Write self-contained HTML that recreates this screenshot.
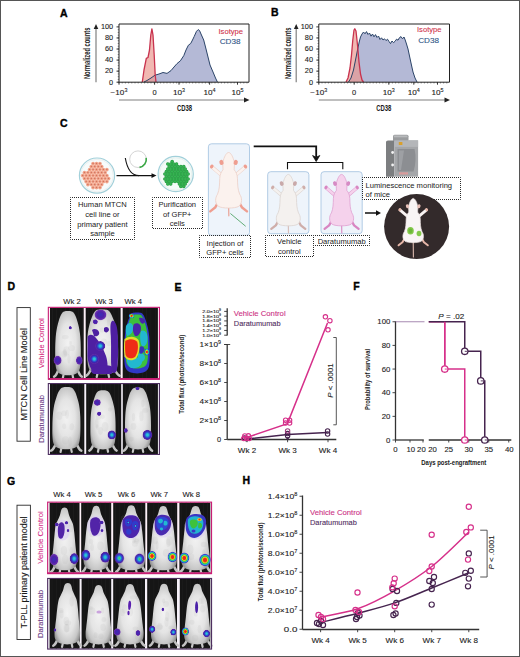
<!DOCTYPE html>
<html><head><meta charset="utf-8"><style>
html,body{margin:0;padding:0;background:#fff;}
svg{display:block;font-family:"Liberation Sans", sans-serif;}
</style></head><body>
<svg width="520" height="657" viewBox="0 0 520 657">
<rect x="0" y="0" width="520" height="657" fill="#fff"/>
<polygon points="144,82 147,80.5 151,78 155,75.2 159,74 163,72.5 167,73.4 171,70.6 174,67 177,63.6 180.4,60.8 183.8,55.6 186,50 188.4,45.2 190.7,43.5 192.5,40 194.2,36.5 196.5,31.3 198.2,29.6 199.5,30.5 201,34 203.7,40 205.5,47 207.5,55 210,65 213,72 215.5,78 217.4,82" fill="#b4b9d6" stroke="none"/>
<polygon points="142.3,82 144,70 146.3,58.4 148,57.5 149.5,50 150.8,35 151.9,28.8 153,35 154.2,55 155.2,75 156,82" fill="#eb9a92" fill-opacity="0.7" stroke="none"/>
<polyline points="144,82 147,80.5 151,78 155,75.2 159,74 163,72.5 167,73.4 171,70.6 174,67 177,63.6 180.4,60.8 183.8,55.6 186,50 188.4,45.2 190.7,43.5 192.5,40 194.2,36.5 196.5,31.3 198.2,29.6 199.5,30.5 201,34 203.7,40 205.5,47 207.5,55 210,65 213,72 215.5,78 217.4,82" fill="none" stroke="#2b4468" stroke-width="1" stroke-linejoin="round"/>
<polyline points="142.3,82 144,70 146.3,58.4 148,57.5 149.5,50 150.8,35 151.9,28.8 153,35 154.2,55 155.2,75 156,82" fill="none" stroke="#c8324e" stroke-width="1.3" stroke-linejoin="round"/>
<path d="M119,24 H249 V82.2 H119 Z" fill="none" stroke="#222" stroke-width="1"/>
<line x1="116.5" y1="82.2" x2="119" y2="82.2" stroke="#222" stroke-width="0.9" />
<text x="113.2" y="84.5" font-size="6.7" fill="#222" text-anchor="end" textLength="4.098410937500001" lengthAdjust="spacingAndGlyphs"  stroke="#222" stroke-width="0.1">0</text>
<line x1="116.5" y1="71.14" x2="119" y2="71.14" stroke="#222" stroke-width="0.9" />
<text x="113.2" y="73.44" font-size="6.7" fill="#222" text-anchor="end" textLength="8.196821875000001" lengthAdjust="spacingAndGlyphs"  stroke="#222" stroke-width="0.1">20</text>
<line x1="116.5" y1="60.08" x2="119" y2="60.08" stroke="#222" stroke-width="0.9" />
<text x="113.2" y="62.379999999999995" font-size="6.7" fill="#222" text-anchor="end" textLength="8.196821875000001" lengthAdjust="spacingAndGlyphs"  stroke="#222" stroke-width="0.1">40</text>
<line x1="116.5" y1="49.019999999999996" x2="119" y2="49.019999999999996" stroke="#222" stroke-width="0.9" />
<text x="113.2" y="51.31999999999999" font-size="6.7" fill="#222" text-anchor="end" textLength="8.196821875000001" lengthAdjust="spacingAndGlyphs"  stroke="#222" stroke-width="0.1">60</text>
<line x1="116.5" y1="37.96" x2="119" y2="37.96" stroke="#222" stroke-width="0.9" />
<text x="113.2" y="40.26" font-size="6.7" fill="#222" text-anchor="end" textLength="8.196821875000001" lengthAdjust="spacingAndGlyphs"  stroke="#222" stroke-width="0.1">80</text>
<line x1="116.5" y1="26.900000000000006" x2="119" y2="26.900000000000006" stroke="#222" stroke-width="0.9" />
<text x="113.2" y="29.200000000000006" font-size="6.7" fill="#222" text-anchor="end" textLength="12.295232812500002" lengthAdjust="spacingAndGlyphs"  stroke="#222" stroke-width="0.1">100</text>
<line x1="117.7" y1="82.2" x2="119" y2="82.2" stroke="#222" stroke-width="0.5" />
<line x1="117.7" y1="79.435" x2="119" y2="79.435" stroke="#222" stroke-width="0.5" />
<line x1="117.7" y1="76.67" x2="119" y2="76.67" stroke="#222" stroke-width="0.5" />
<line x1="117.7" y1="73.905" x2="119" y2="73.905" stroke="#222" stroke-width="0.5" />
<line x1="117.7" y1="71.14" x2="119" y2="71.14" stroke="#222" stroke-width="0.5" />
<line x1="117.7" y1="68.375" x2="119" y2="68.375" stroke="#222" stroke-width="0.5" />
<line x1="117.7" y1="65.61" x2="119" y2="65.61" stroke="#222" stroke-width="0.5" />
<line x1="117.7" y1="62.845" x2="119" y2="62.845" stroke="#222" stroke-width="0.5" />
<line x1="117.7" y1="60.08" x2="119" y2="60.08" stroke="#222" stroke-width="0.5" />
<line x1="117.7" y1="57.315" x2="119" y2="57.315" stroke="#222" stroke-width="0.5" />
<line x1="117.7" y1="54.550000000000004" x2="119" y2="54.550000000000004" stroke="#222" stroke-width="0.5" />
<line x1="117.7" y1="51.785" x2="119" y2="51.785" stroke="#222" stroke-width="0.5" />
<line x1="117.7" y1="49.019999999999996" x2="119" y2="49.019999999999996" stroke="#222" stroke-width="0.5" />
<line x1="117.7" y1="46.254999999999995" x2="119" y2="46.254999999999995" stroke="#222" stroke-width="0.5" />
<line x1="117.7" y1="43.489999999999995" x2="119" y2="43.489999999999995" stroke="#222" stroke-width="0.5" />
<line x1="117.7" y1="40.725" x2="119" y2="40.725" stroke="#222" stroke-width="0.5" />
<line x1="117.7" y1="37.96" x2="119" y2="37.96" stroke="#222" stroke-width="0.5" />
<line x1="117.7" y1="35.195" x2="119" y2="35.195" stroke="#222" stroke-width="0.5" />
<line x1="117.7" y1="32.43" x2="119" y2="32.43" stroke="#222" stroke-width="0.5" />
<line x1="117.7" y1="29.665000000000006" x2="119" y2="29.665000000000006" stroke="#222" stroke-width="0.5" />
<line x1="119" y1="82.2" x2="119" y2="83.5" stroke="#222" stroke-width="0.5" />
<line x1="122.2" y1="82.2" x2="122.2" y2="83.5" stroke="#222" stroke-width="0.5" />
<line x1="125.4" y1="82.2" x2="125.4" y2="83.5" stroke="#222" stroke-width="0.5" />
<line x1="128.6" y1="82.2" x2="128.6" y2="83.5" stroke="#222" stroke-width="0.5" />
<line x1="131.79999999999998" y1="82.2" x2="131.79999999999998" y2="83.5" stroke="#222" stroke-width="0.5" />
<line x1="134.99999999999997" y1="82.2" x2="134.99999999999997" y2="83.5" stroke="#222" stroke-width="0.5" />
<line x1="138.19999999999996" y1="82.2" x2="138.19999999999996" y2="83.5" stroke="#222" stroke-width="0.5" />
<line x1="141.39999999999995" y1="82.2" x2="141.39999999999995" y2="83.5" stroke="#222" stroke-width="0.5" />
<line x1="144.59999999999994" y1="82.2" x2="144.59999999999994" y2="83.5" stroke="#222" stroke-width="0.5" />
<line x1="147.79999999999993" y1="82.2" x2="147.79999999999993" y2="83.5" stroke="#222" stroke-width="0.5" />
<line x1="150.99999999999991" y1="82.2" x2="150.99999999999991" y2="83.5" stroke="#222" stroke-width="0.5" />
<line x1="154.1999999999999" y1="82.2" x2="154.1999999999999" y2="83.5" stroke="#222" stroke-width="0.5" />
<line x1="157.3999999999999" y1="82.2" x2="157.3999999999999" y2="83.5" stroke="#222" stroke-width="0.5" />
<line x1="160.59999999999988" y1="82.2" x2="160.59999999999988" y2="83.5" stroke="#222" stroke-width="0.5" />
<line x1="163.79999999999987" y1="82.2" x2="163.79999999999987" y2="83.5" stroke="#222" stroke-width="0.5" />
<line x1="166.99999999999986" y1="82.2" x2="166.99999999999986" y2="83.5" stroke="#222" stroke-width="0.5" />
<line x1="170.19999999999985" y1="82.2" x2="170.19999999999985" y2="83.5" stroke="#222" stroke-width="0.5" />
<line x1="173.39999999999984" y1="82.2" x2="173.39999999999984" y2="83.5" stroke="#222" stroke-width="0.5" />
<line x1="176.59999999999982" y1="82.2" x2="176.59999999999982" y2="83.5" stroke="#222" stroke-width="0.5" />
<line x1="179.7999999999998" y1="82.2" x2="179.7999999999998" y2="83.5" stroke="#222" stroke-width="0.5" />
<line x1="182.9999999999998" y1="82.2" x2="182.9999999999998" y2="83.5" stroke="#222" stroke-width="0.5" />
<line x1="186.1999999999998" y1="82.2" x2="186.1999999999998" y2="83.5" stroke="#222" stroke-width="0.5" />
<line x1="189.39999999999978" y1="82.2" x2="189.39999999999978" y2="83.5" stroke="#222" stroke-width="0.5" />
<line x1="192.59999999999977" y1="82.2" x2="192.59999999999977" y2="83.5" stroke="#222" stroke-width="0.5" />
<line x1="195.79999999999976" y1="82.2" x2="195.79999999999976" y2="83.5" stroke="#222" stroke-width="0.5" />
<line x1="198.99999999999974" y1="82.2" x2="198.99999999999974" y2="83.5" stroke="#222" stroke-width="0.5" />
<line x1="202.19999999999973" y1="82.2" x2="202.19999999999973" y2="83.5" stroke="#222" stroke-width="0.5" />
<line x1="205.39999999999972" y1="82.2" x2="205.39999999999972" y2="83.5" stroke="#222" stroke-width="0.5" />
<line x1="208.5999999999997" y1="82.2" x2="208.5999999999997" y2="83.5" stroke="#222" stroke-width="0.5" />
<line x1="211.7999999999997" y1="82.2" x2="211.7999999999997" y2="83.5" stroke="#222" stroke-width="0.5" />
<line x1="214.9999999999997" y1="82.2" x2="214.9999999999997" y2="83.5" stroke="#222" stroke-width="0.5" />
<line x1="218.19999999999968" y1="82.2" x2="218.19999999999968" y2="83.5" stroke="#222" stroke-width="0.5" />
<line x1="221.39999999999966" y1="82.2" x2="221.39999999999966" y2="83.5" stroke="#222" stroke-width="0.5" />
<line x1="224.59999999999965" y1="82.2" x2="224.59999999999965" y2="83.5" stroke="#222" stroke-width="0.5" />
<line x1="227.79999999999964" y1="82.2" x2="227.79999999999964" y2="83.5" stroke="#222" stroke-width="0.5" />
<line x1="230.99999999999963" y1="82.2" x2="230.99999999999963" y2="83.5" stroke="#222" stroke-width="0.5" />
<line x1="234.19999999999962" y1="82.2" x2="234.19999999999962" y2="83.5" stroke="#222" stroke-width="0.5" />
<line x1="237.3999999999996" y1="82.2" x2="237.3999999999996" y2="83.5" stroke="#222" stroke-width="0.5" />
<line x1="240.5999999999996" y1="82.2" x2="240.5999999999996" y2="83.5" stroke="#222" stroke-width="0.5" />
<line x1="243.79999999999959" y1="82.2" x2="243.79999999999959" y2="83.5" stroke="#222" stroke-width="0.5" />
<line x1="246.99999999999957" y1="82.2" x2="246.99999999999957" y2="83.5" stroke="#222" stroke-width="0.5" />
<line x1="119" y1="82.2" x2="119" y2="84.7" stroke="#222" stroke-width="0.9" />
<line x1="154.6" y1="82.2" x2="154.6" y2="84.7" stroke="#222" stroke-width="0.9" />
<line x1="179" y1="82.2" x2="179" y2="84.7" stroke="#222" stroke-width="0.9" />
<line x1="209.6" y1="82.2" x2="209.6" y2="84.7" stroke="#222" stroke-width="0.9" />
<line x1="237.5" y1="82.2" x2="237.5" y2="84.7" stroke="#222" stroke-width="0.9" />
<text x="119" y="94.6" font-size="6.8" fill="#222" text-anchor="middle" textLength="16.84" lengthAdjust="spacingAndGlyphs" stroke="#222" stroke-width="0.1">&#8722;10<tspan font-size="4.5" dy="-2.8">3</tspan></text>
<text x="154.6" y="94.6" font-size="6.8" fill="#222" text-anchor="middle" textLength="4.1595812500000005" lengthAdjust="spacingAndGlyphs"  stroke="#222" stroke-width="0.1">0</text>
<text x="179" y="94.6" font-size="6.8" fill="#222" text-anchor="middle" textLength="12.08" lengthAdjust="spacingAndGlyphs" stroke="#222" stroke-width="0.1">10<tspan font-size="4.5" dy="-2.8">3</tspan></text>
<text x="209.6" y="94.6" font-size="6.8" fill="#222" text-anchor="middle" textLength="12.08" lengthAdjust="spacingAndGlyphs" stroke="#222" stroke-width="0.1">10<tspan font-size="4.5" dy="-2.8">4</tspan></text>
<text x="237.5" y="94.6" font-size="6.8" fill="#222" text-anchor="middle" textLength="12.08" lengthAdjust="spacingAndGlyphs" stroke="#222" stroke-width="0.1">10<tspan font-size="4.5" dy="-2.8">5</tspan></text>
<line x1="119" y1="100" x2="246" y2="100" stroke="#808080" stroke-width="1.2" />
<path d="M249.5,100 L244,97.6 L244,102.4 Z" fill="#222"/>
<text x="184.5" y="111" font-size="9.0" fill="#1a1a1a" text-anchor="middle" font-weight="bold" textLength="15.2" lengthAdjust="spacingAndGlyphs" >CD38</text>
<line x1="96" y1="82.2" x2="96" y2="27" stroke="#808080" stroke-width="1.2" />
<path d="M96,24 L93.7,29 L98.3,29 Z" fill="#222"/>
<text x="90.5" y="53.3" font-size="8.4" fill="#1a1a1a" text-anchor="middle" font-weight="bold" textLength="51.6" lengthAdjust="spacingAndGlyphs" transform="rotate(-90 90.5 53.3)" >Normalized counts</text>
<text x="218.5" y="34.2" font-size="7.6" fill="#d0334a" text-anchor="start"  stroke="#d0334a" stroke-width="0.1">Isotype</text>
<text x="219.7" y="44.2" font-size="7.6" fill="#2f5688" text-anchor="start" textLength="20.8" lengthAdjust="spacingAndGlyphs"  stroke="#2f5688" stroke-width="0.1">CD38</text>
<text x="60" y="16.8" font-size="10.5" fill="#000" text-anchor="start" font-weight="bold" stroke="#000" stroke-width="0.35">A</text>
<polygon points="348.5,82 351,78 353.5,70 355.5,60 357.5,50 359.2,42 360.5,37 362,34 363.5,32 365,33.8 366.5,31.6 368,34.5 369.5,33 371,36.2 372.5,34 374,36.8 375.5,34.6 377,37.5 378.5,36 380,39.5 381.5,37.8 383,40 384.5,38.8 386,40.6 387.5,39.2 389,41.5 390.5,43.6 392,41 393.5,42.6 395,41.4 396.5,39.2 398,40.2 399.5,37.6 401,36.6 402.5,38.8 404,37 405.2,40 406.5,44 408,49 409.5,56 411,63 413,72 415,78 417,82" fill="#b4b9d6" stroke="none"/>
<polygon points="346,82 348,78 350,68 351.5,55 352.8,40 354,30 354.8,28.8 356,31 357.5,45 359,62 360.5,74 362,80 363.5,82" fill="#eb9a92" fill-opacity="0.7" stroke="none"/>
<polyline points="348.5,82 351,78 353.5,70 355.5,60 357.5,50 359.2,42 360.5,37 362,34 363.5,32 365,33.8 366.5,31.6 368,34.5 369.5,33 371,36.2 372.5,34 374,36.8 375.5,34.6 377,37.5 378.5,36 380,39.5 381.5,37.8 383,40 384.5,38.8 386,40.6 387.5,39.2 389,41.5 390.5,43.6 392,41 393.5,42.6 395,41.4 396.5,39.2 398,40.2 399.5,37.6 401,36.6 402.5,38.8 404,37 405.2,40 406.5,44 408,49 409.5,56 411,63 413,72 415,78 417,82" fill="none" stroke="#2b4468" stroke-width="1" stroke-linejoin="round"/>
<polyline points="346,82 348,78 350,68 351.5,55 352.8,40 354,30 354.8,28.8 356,31 357.5,45 359,62 360.5,74 362,80 363.5,82" fill="none" stroke="#c8324e" stroke-width="1.3" stroke-linejoin="round"/>
<path d="M318.8,24 H449.5 V82.2 H318.8 Z" fill="none" stroke="#222" stroke-width="1"/>
<line x1="316.3" y1="82.2" x2="318.8" y2="82.2" stroke="#222" stroke-width="0.9" />
<text x="313.0" y="84.5" font-size="6.7" fill="#222" text-anchor="end" textLength="4.098410937500001" lengthAdjust="spacingAndGlyphs"  stroke="#222" stroke-width="0.1">0</text>
<line x1="316.3" y1="71.14" x2="318.8" y2="71.14" stroke="#222" stroke-width="0.9" />
<text x="313.0" y="73.44" font-size="6.7" fill="#222" text-anchor="end" textLength="8.196821875000001" lengthAdjust="spacingAndGlyphs"  stroke="#222" stroke-width="0.1">20</text>
<line x1="316.3" y1="60.08" x2="318.8" y2="60.08" stroke="#222" stroke-width="0.9" />
<text x="313.0" y="62.379999999999995" font-size="6.7" fill="#222" text-anchor="end" textLength="8.196821875000001" lengthAdjust="spacingAndGlyphs"  stroke="#222" stroke-width="0.1">40</text>
<line x1="316.3" y1="49.019999999999996" x2="318.8" y2="49.019999999999996" stroke="#222" stroke-width="0.9" />
<text x="313.0" y="51.31999999999999" font-size="6.7" fill="#222" text-anchor="end" textLength="8.196821875000001" lengthAdjust="spacingAndGlyphs"  stroke="#222" stroke-width="0.1">60</text>
<line x1="316.3" y1="37.96" x2="318.8" y2="37.96" stroke="#222" stroke-width="0.9" />
<text x="313.0" y="40.26" font-size="6.7" fill="#222" text-anchor="end" textLength="8.196821875000001" lengthAdjust="spacingAndGlyphs"  stroke="#222" stroke-width="0.1">80</text>
<line x1="316.3" y1="26.900000000000006" x2="318.8" y2="26.900000000000006" stroke="#222" stroke-width="0.9" />
<text x="313.0" y="29.200000000000006" font-size="6.7" fill="#222" text-anchor="end" textLength="12.295232812500002" lengthAdjust="spacingAndGlyphs"  stroke="#222" stroke-width="0.1">100</text>
<line x1="317.5" y1="82.2" x2="318.8" y2="82.2" stroke="#222" stroke-width="0.5" />
<line x1="317.5" y1="79.435" x2="318.8" y2="79.435" stroke="#222" stroke-width="0.5" />
<line x1="317.5" y1="76.67" x2="318.8" y2="76.67" stroke="#222" stroke-width="0.5" />
<line x1="317.5" y1="73.905" x2="318.8" y2="73.905" stroke="#222" stroke-width="0.5" />
<line x1="317.5" y1="71.14" x2="318.8" y2="71.14" stroke="#222" stroke-width="0.5" />
<line x1="317.5" y1="68.375" x2="318.8" y2="68.375" stroke="#222" stroke-width="0.5" />
<line x1="317.5" y1="65.61" x2="318.8" y2="65.61" stroke="#222" stroke-width="0.5" />
<line x1="317.5" y1="62.845" x2="318.8" y2="62.845" stroke="#222" stroke-width="0.5" />
<line x1="317.5" y1="60.08" x2="318.8" y2="60.08" stroke="#222" stroke-width="0.5" />
<line x1="317.5" y1="57.315" x2="318.8" y2="57.315" stroke="#222" stroke-width="0.5" />
<line x1="317.5" y1="54.550000000000004" x2="318.8" y2="54.550000000000004" stroke="#222" stroke-width="0.5" />
<line x1="317.5" y1="51.785" x2="318.8" y2="51.785" stroke="#222" stroke-width="0.5" />
<line x1="317.5" y1="49.019999999999996" x2="318.8" y2="49.019999999999996" stroke="#222" stroke-width="0.5" />
<line x1="317.5" y1="46.254999999999995" x2="318.8" y2="46.254999999999995" stroke="#222" stroke-width="0.5" />
<line x1="317.5" y1="43.489999999999995" x2="318.8" y2="43.489999999999995" stroke="#222" stroke-width="0.5" />
<line x1="317.5" y1="40.725" x2="318.8" y2="40.725" stroke="#222" stroke-width="0.5" />
<line x1="317.5" y1="37.96" x2="318.8" y2="37.96" stroke="#222" stroke-width="0.5" />
<line x1="317.5" y1="35.195" x2="318.8" y2="35.195" stroke="#222" stroke-width="0.5" />
<line x1="317.5" y1="32.43" x2="318.8" y2="32.43" stroke="#222" stroke-width="0.5" />
<line x1="317.5" y1="29.665000000000006" x2="318.8" y2="29.665000000000006" stroke="#222" stroke-width="0.5" />
<line x1="318.8" y1="82.2" x2="318.8" y2="83.5" stroke="#222" stroke-width="0.5" />
<line x1="322.0" y1="82.2" x2="322.0" y2="83.5" stroke="#222" stroke-width="0.5" />
<line x1="325.2" y1="82.2" x2="325.2" y2="83.5" stroke="#222" stroke-width="0.5" />
<line x1="328.4" y1="82.2" x2="328.4" y2="83.5" stroke="#222" stroke-width="0.5" />
<line x1="331.59999999999997" y1="82.2" x2="331.59999999999997" y2="83.5" stroke="#222" stroke-width="0.5" />
<line x1="334.79999999999995" y1="82.2" x2="334.79999999999995" y2="83.5" stroke="#222" stroke-width="0.5" />
<line x1="337.99999999999994" y1="82.2" x2="337.99999999999994" y2="83.5" stroke="#222" stroke-width="0.5" />
<line x1="341.19999999999993" y1="82.2" x2="341.19999999999993" y2="83.5" stroke="#222" stroke-width="0.5" />
<line x1="344.3999999999999" y1="82.2" x2="344.3999999999999" y2="83.5" stroke="#222" stroke-width="0.5" />
<line x1="347.5999999999999" y1="82.2" x2="347.5999999999999" y2="83.5" stroke="#222" stroke-width="0.5" />
<line x1="350.7999999999999" y1="82.2" x2="350.7999999999999" y2="83.5" stroke="#222" stroke-width="0.5" />
<line x1="353.9999999999999" y1="82.2" x2="353.9999999999999" y2="83.5" stroke="#222" stroke-width="0.5" />
<line x1="357.1999999999999" y1="82.2" x2="357.1999999999999" y2="83.5" stroke="#222" stroke-width="0.5" />
<line x1="360.39999999999986" y1="82.2" x2="360.39999999999986" y2="83.5" stroke="#222" stroke-width="0.5" />
<line x1="363.59999999999985" y1="82.2" x2="363.59999999999985" y2="83.5" stroke="#222" stroke-width="0.5" />
<line x1="366.79999999999984" y1="82.2" x2="366.79999999999984" y2="83.5" stroke="#222" stroke-width="0.5" />
<line x1="369.99999999999983" y1="82.2" x2="369.99999999999983" y2="83.5" stroke="#222" stroke-width="0.5" />
<line x1="373.1999999999998" y1="82.2" x2="373.1999999999998" y2="83.5" stroke="#222" stroke-width="0.5" />
<line x1="376.3999999999998" y1="82.2" x2="376.3999999999998" y2="83.5" stroke="#222" stroke-width="0.5" />
<line x1="379.5999999999998" y1="82.2" x2="379.5999999999998" y2="83.5" stroke="#222" stroke-width="0.5" />
<line x1="382.7999999999998" y1="82.2" x2="382.7999999999998" y2="83.5" stroke="#222" stroke-width="0.5" />
<line x1="385.9999999999998" y1="82.2" x2="385.9999999999998" y2="83.5" stroke="#222" stroke-width="0.5" />
<line x1="389.19999999999976" y1="82.2" x2="389.19999999999976" y2="83.5" stroke="#222" stroke-width="0.5" />
<line x1="392.39999999999975" y1="82.2" x2="392.39999999999975" y2="83.5" stroke="#222" stroke-width="0.5" />
<line x1="395.59999999999974" y1="82.2" x2="395.59999999999974" y2="83.5" stroke="#222" stroke-width="0.5" />
<line x1="398.7999999999997" y1="82.2" x2="398.7999999999997" y2="83.5" stroke="#222" stroke-width="0.5" />
<line x1="401.9999999999997" y1="82.2" x2="401.9999999999997" y2="83.5" stroke="#222" stroke-width="0.5" />
<line x1="405.1999999999997" y1="82.2" x2="405.1999999999997" y2="83.5" stroke="#222" stroke-width="0.5" />
<line x1="408.3999999999997" y1="82.2" x2="408.3999999999997" y2="83.5" stroke="#222" stroke-width="0.5" />
<line x1="411.5999999999997" y1="82.2" x2="411.5999999999997" y2="83.5" stroke="#222" stroke-width="0.5" />
<line x1="414.79999999999967" y1="82.2" x2="414.79999999999967" y2="83.5" stroke="#222" stroke-width="0.5" />
<line x1="417.99999999999966" y1="82.2" x2="417.99999999999966" y2="83.5" stroke="#222" stroke-width="0.5" />
<line x1="421.19999999999965" y1="82.2" x2="421.19999999999965" y2="83.5" stroke="#222" stroke-width="0.5" />
<line x1="424.39999999999964" y1="82.2" x2="424.39999999999964" y2="83.5" stroke="#222" stroke-width="0.5" />
<line x1="427.5999999999996" y1="82.2" x2="427.5999999999996" y2="83.5" stroke="#222" stroke-width="0.5" />
<line x1="430.7999999999996" y1="82.2" x2="430.7999999999996" y2="83.5" stroke="#222" stroke-width="0.5" />
<line x1="433.9999999999996" y1="82.2" x2="433.9999999999996" y2="83.5" stroke="#222" stroke-width="0.5" />
<line x1="437.1999999999996" y1="82.2" x2="437.1999999999996" y2="83.5" stroke="#222" stroke-width="0.5" />
<line x1="440.3999999999996" y1="82.2" x2="440.3999999999996" y2="83.5" stroke="#222" stroke-width="0.5" />
<line x1="443.59999999999957" y1="82.2" x2="443.59999999999957" y2="83.5" stroke="#222" stroke-width="0.5" />
<line x1="446.79999999999956" y1="82.2" x2="446.79999999999956" y2="83.5" stroke="#222" stroke-width="0.5" />
<line x1="318.8" y1="82.2" x2="318.8" y2="84.7" stroke="#222" stroke-width="0.9" />
<line x1="354.2" y1="82.2" x2="354.2" y2="84.7" stroke="#222" stroke-width="0.9" />
<line x1="388.8" y1="82.2" x2="388.8" y2="84.7" stroke="#222" stroke-width="0.9" />
<line x1="413.8" y1="82.2" x2="413.8" y2="84.7" stroke="#222" stroke-width="0.9" />
<line x1="437.5" y1="82.2" x2="437.5" y2="84.7" stroke="#222" stroke-width="0.9" />
<text x="318.8" y="94.6" font-size="6.8" fill="#222" text-anchor="middle" textLength="16.84" lengthAdjust="spacingAndGlyphs" stroke="#222" stroke-width="0.1">&#8722;10<tspan font-size="4.5" dy="-2.8">3</tspan></text>
<text x="354.2" y="94.6" font-size="6.8" fill="#222" text-anchor="middle" textLength="4.1595812500000005" lengthAdjust="spacingAndGlyphs"  stroke="#222" stroke-width="0.1">0</text>
<text x="388.8" y="94.6" font-size="6.8" fill="#222" text-anchor="middle" textLength="12.08" lengthAdjust="spacingAndGlyphs" stroke="#222" stroke-width="0.1">10<tspan font-size="4.5" dy="-2.8">3</tspan></text>
<text x="413.8" y="94.6" font-size="6.8" fill="#222" text-anchor="middle" textLength="12.08" lengthAdjust="spacingAndGlyphs" stroke="#222" stroke-width="0.1">10<tspan font-size="4.5" dy="-2.8">4</tspan></text>
<text x="437.5" y="94.6" font-size="6.8" fill="#222" text-anchor="middle" textLength="12.08" lengthAdjust="spacingAndGlyphs" stroke="#222" stroke-width="0.1">10<tspan font-size="4.5" dy="-2.8">5</tspan></text>
<line x1="318.8" y1="100" x2="446.5" y2="100" stroke="#808080" stroke-width="1.2" />
<path d="M450.0,100 L444.5,97.6 L444.5,102.4 Z" fill="#222"/>
<text x="383.8" y="111" font-size="9.0" fill="#1a1a1a" text-anchor="middle" font-weight="bold" textLength="15.2" lengthAdjust="spacingAndGlyphs" >CD38</text>
<line x1="296.2" y1="82.2" x2="296.2" y2="27" stroke="#808080" stroke-width="1.2" />
<path d="M296.2,24 L293.9,29 L298.5,29 Z" fill="#222"/>
<text x="291.0" y="53.3" font-size="8.4" fill="#1a1a1a" text-anchor="middle" font-weight="bold" textLength="51.6" lengthAdjust="spacingAndGlyphs" transform="rotate(-90 291.0 53.3)" >Normalized counts</text>
<text x="417" y="31.8" font-size="7.6" fill="#d0334a" text-anchor="start"  stroke="#d0334a" stroke-width="0.1">Isotype</text>
<text x="418.2" y="42.6" font-size="7.6" fill="#2f5688" text-anchor="start" textLength="20.8" lengthAdjust="spacingAndGlyphs"  stroke="#2f5688" stroke-width="0.1">CD38</text>
<text x="271" y="16.4" font-size="10.5" fill="#000" text-anchor="start" font-weight="bold" stroke="#000" stroke-width="0.35">B</text>
<text x="60" y="126.8" font-size="10.5" fill="#000" text-anchor="start" font-weight="bold" stroke="#000" stroke-width="0.35">C</text>
<circle cx="97" cy="175.6" r="17.6" fill="#f7fbfb" stroke="#a2d0da" stroke-width="1.2"/>
<circle cx="97" cy="175.6" r="16.3" fill="none" stroke="#e4eaea" stroke-width="0.6"/>
<circle cx="93.05" cy="163.60" r="1.85" fill="#f3a68c"/>
<circle cx="96.50" cy="163.60" r="1.85" fill="#f3a68c"/>
<circle cx="99.95" cy="163.60" r="1.85" fill="#f3a68c"/>
<circle cx="91.32" cy="166.60" r="1.85" fill="#f3a68c"/>
<circle cx="94.77" cy="166.60" r="1.85" fill="#f3a68c"/>
<circle cx="98.22" cy="166.60" r="1.85" fill="#f3a68c"/>
<circle cx="101.67" cy="166.60" r="1.85" fill="#f3a68c"/>
<circle cx="89.60" cy="169.60" r="1.85" fill="#f3a68c"/>
<circle cx="93.05" cy="169.60" r="1.85" fill="#f3a68c"/>
<circle cx="96.50" cy="169.60" r="1.85" fill="#f3a68c"/>
<circle cx="99.95" cy="169.60" r="1.85" fill="#f3a68c"/>
<circle cx="103.40" cy="169.60" r="1.85" fill="#f3a68c"/>
<circle cx="106.85" cy="169.60" r="1.85" fill="#f3a68c"/>
<circle cx="84.42" cy="172.60" r="1.85" fill="#f3a68c"/>
<circle cx="87.88" cy="172.60" r="1.85" fill="#f3a68c"/>
<circle cx="91.32" cy="172.60" r="1.85" fill="#f3a68c"/>
<circle cx="94.77" cy="172.60" r="1.85" fill="#f3a68c"/>
<circle cx="98.22" cy="172.60" r="1.85" fill="#f3a68c"/>
<circle cx="101.67" cy="172.60" r="1.85" fill="#f3a68c"/>
<circle cx="105.12" cy="172.60" r="1.85" fill="#f3a68c"/>
<circle cx="82.70" cy="175.60" r="1.85" fill="#f3a68c"/>
<circle cx="86.15" cy="175.60" r="1.85" fill="#f3a68c"/>
<circle cx="89.60" cy="175.60" r="1.85" fill="#f3a68c"/>
<circle cx="93.05" cy="175.60" r="1.85" fill="#f3a68c"/>
<circle cx="96.50" cy="175.60" r="1.85" fill="#f3a68c"/>
<circle cx="99.95" cy="175.60" r="1.85" fill="#f3a68c"/>
<circle cx="103.40" cy="175.60" r="1.85" fill="#f3a68c"/>
<circle cx="106.85" cy="175.60" r="1.85" fill="#f3a68c"/>
<circle cx="84.42" cy="178.60" r="1.85" fill="#f3a68c"/>
<circle cx="87.88" cy="178.60" r="1.85" fill="#f3a68c"/>
<circle cx="91.32" cy="178.60" r="1.85" fill="#f3a68c"/>
<circle cx="94.77" cy="178.60" r="1.85" fill="#f3a68c"/>
<circle cx="98.22" cy="178.60" r="1.85" fill="#f3a68c"/>
<circle cx="101.67" cy="178.60" r="1.85" fill="#f3a68c"/>
<circle cx="105.12" cy="178.60" r="1.85" fill="#f3a68c"/>
<circle cx="108.57" cy="178.60" r="1.85" fill="#f3a68c"/>
<circle cx="86.15" cy="181.60" r="1.85" fill="#f3a68c"/>
<circle cx="89.60" cy="181.60" r="1.85" fill="#f3a68c"/>
<circle cx="93.05" cy="181.60" r="1.85" fill="#f3a68c"/>
<circle cx="96.50" cy="181.60" r="1.85" fill="#f3a68c"/>
<circle cx="99.95" cy="181.60" r="1.85" fill="#f3a68c"/>
<circle cx="103.40" cy="181.60" r="1.85" fill="#f3a68c"/>
<circle cx="106.85" cy="181.60" r="1.85" fill="#f3a68c"/>
<circle cx="87.88" cy="184.60" r="1.85" fill="#f3a68c"/>
<circle cx="91.32" cy="184.60" r="1.85" fill="#f3a68c"/>
<circle cx="94.77" cy="184.60" r="1.85" fill="#f3a68c"/>
<circle cx="98.22" cy="184.60" r="1.85" fill="#f3a68c"/>
<circle cx="101.67" cy="184.60" r="1.85" fill="#f3a68c"/>
<circle cx="93.05" cy="187.60" r="1.85" fill="#f3a68c"/>
<circle cx="96.50" cy="187.60" r="1.85" fill="#f3a68c"/>
<circle cx="99.95" cy="187.60" r="1.85" fill="#f3a68c"/>
<circle cx="93.05" cy="163.60" r="0.75" fill="#cf7560"/>
<circle cx="96.50" cy="163.60" r="0.75" fill="#cf7560"/>
<circle cx="99.95" cy="163.60" r="0.75" fill="#cf7560"/>
<circle cx="91.32" cy="166.60" r="0.75" fill="#cf7560"/>
<circle cx="94.77" cy="166.60" r="0.75" fill="#cf7560"/>
<circle cx="98.22" cy="166.60" r="0.75" fill="#cf7560"/>
<circle cx="101.67" cy="166.60" r="0.75" fill="#cf7560"/>
<circle cx="89.60" cy="169.60" r="0.75" fill="#cf7560"/>
<circle cx="93.05" cy="169.60" r="0.75" fill="#cf7560"/>
<circle cx="96.50" cy="169.60" r="0.75" fill="#cf7560"/>
<circle cx="99.95" cy="169.60" r="0.75" fill="#cf7560"/>
<circle cx="103.40" cy="169.60" r="0.75" fill="#cf7560"/>
<circle cx="106.85" cy="169.60" r="0.75" fill="#cf7560"/>
<circle cx="84.42" cy="172.60" r="0.75" fill="#cf7560"/>
<circle cx="87.88" cy="172.60" r="0.75" fill="#cf7560"/>
<circle cx="91.32" cy="172.60" r="0.75" fill="#cf7560"/>
<circle cx="94.77" cy="172.60" r="0.75" fill="#cf7560"/>
<circle cx="98.22" cy="172.60" r="0.75" fill="#cf7560"/>
<circle cx="101.67" cy="172.60" r="0.75" fill="#cf7560"/>
<circle cx="105.12" cy="172.60" r="0.75" fill="#cf7560"/>
<circle cx="82.70" cy="175.60" r="0.75" fill="#cf7560"/>
<circle cx="86.15" cy="175.60" r="0.75" fill="#cf7560"/>
<circle cx="89.60" cy="175.60" r="0.75" fill="#cf7560"/>
<circle cx="93.05" cy="175.60" r="0.75" fill="#cf7560"/>
<circle cx="96.50" cy="175.60" r="0.75" fill="#cf7560"/>
<circle cx="99.95" cy="175.60" r="0.75" fill="#cf7560"/>
<circle cx="103.40" cy="175.60" r="0.75" fill="#cf7560"/>
<circle cx="106.85" cy="175.60" r="0.75" fill="#cf7560"/>
<circle cx="84.42" cy="178.60" r="0.75" fill="#cf7560"/>
<circle cx="87.88" cy="178.60" r="0.75" fill="#cf7560"/>
<circle cx="91.32" cy="178.60" r="0.75" fill="#cf7560"/>
<circle cx="94.77" cy="178.60" r="0.75" fill="#cf7560"/>
<circle cx="98.22" cy="178.60" r="0.75" fill="#cf7560"/>
<circle cx="101.67" cy="178.60" r="0.75" fill="#cf7560"/>
<circle cx="105.12" cy="178.60" r="0.75" fill="#cf7560"/>
<circle cx="108.57" cy="178.60" r="0.75" fill="#cf7560"/>
<circle cx="86.15" cy="181.60" r="0.75" fill="#cf7560"/>
<circle cx="89.60" cy="181.60" r="0.75" fill="#cf7560"/>
<circle cx="93.05" cy="181.60" r="0.75" fill="#cf7560"/>
<circle cx="96.50" cy="181.60" r="0.75" fill="#cf7560"/>
<circle cx="99.95" cy="181.60" r="0.75" fill="#cf7560"/>
<circle cx="103.40" cy="181.60" r="0.75" fill="#cf7560"/>
<circle cx="106.85" cy="181.60" r="0.75" fill="#cf7560"/>
<circle cx="87.88" cy="184.60" r="0.75" fill="#cf7560"/>
<circle cx="91.32" cy="184.60" r="0.75" fill="#cf7560"/>
<circle cx="94.77" cy="184.60" r="0.75" fill="#cf7560"/>
<circle cx="98.22" cy="184.60" r="0.75" fill="#cf7560"/>
<circle cx="101.67" cy="184.60" r="0.75" fill="#cf7560"/>
<circle cx="93.05" cy="187.60" r="0.75" fill="#cf7560"/>
<circle cx="96.50" cy="187.60" r="0.75" fill="#cf7560"/>
<circle cx="99.95" cy="187.60" r="0.75" fill="#cf7560"/>
<path d="M116.5,175.6 H152.5" stroke="#111" stroke-width="1.1" fill="none"/>
<path d="M156.5,175.6 L151.5,173.3 L151.5,177.9 Z" fill="#111"/>
<path d="M125.3,158 C127,168 131,175.6 139,175.6" stroke="#111" stroke-width="1.1" fill="none"/>
<circle cx="138" cy="159.2" r="8.3" fill="#fff" stroke="#cfcfcf" stroke-width="0.9"/>
<path d="M146.2,157.8 A8.3,8.3 0 0 1 139.5,167.4" stroke="#3aa845" stroke-width="1.6" fill="none"/>
<circle cx="175.7" cy="174" r="17.6" fill="#f3fbf8" stroke="#a2d0da" stroke-width="1.2"/>
<circle cx="175.7" cy="174" r="16.2" fill="none" stroke="#e2eaea" stroke-width="0.6"/>
<circle cx="172.15" cy="161.50" r="1.75" fill="#23973f"/>
<circle cx="167.80" cy="164.00" r="1.75" fill="#23973f"/>
<circle cx="170.70" cy="164.00" r="1.75" fill="#23973f"/>
<circle cx="173.60" cy="164.00" r="1.75" fill="#23973f"/>
<circle cx="176.50" cy="164.00" r="1.75" fill="#23973f"/>
<circle cx="169.25" cy="166.50" r="1.75" fill="#23973f"/>
<circle cx="172.15" cy="166.50" r="1.75" fill="#23973f"/>
<circle cx="175.05" cy="166.50" r="1.75" fill="#23973f"/>
<circle cx="177.95" cy="166.50" r="1.75" fill="#23973f"/>
<circle cx="180.85" cy="166.50" r="1.75" fill="#23973f"/>
<circle cx="183.75" cy="166.50" r="1.75" fill="#23973f"/>
<circle cx="167.80" cy="169.00" r="1.75" fill="#23973f"/>
<circle cx="170.70" cy="169.00" r="1.75" fill="#23973f"/>
<circle cx="173.60" cy="169.00" r="1.75" fill="#23973f"/>
<circle cx="176.50" cy="169.00" r="1.75" fill="#23973f"/>
<circle cx="179.40" cy="169.00" r="1.75" fill="#23973f"/>
<circle cx="182.30" cy="169.00" r="1.75" fill="#23973f"/>
<circle cx="185.20" cy="169.00" r="1.75" fill="#23973f"/>
<circle cx="166.35" cy="171.50" r="1.75" fill="#23973f"/>
<circle cx="169.25" cy="171.50" r="1.75" fill="#23973f"/>
<circle cx="172.15" cy="171.50" r="1.75" fill="#23973f"/>
<circle cx="175.05" cy="171.50" r="1.75" fill="#23973f"/>
<circle cx="177.95" cy="171.50" r="1.75" fill="#23973f"/>
<circle cx="180.85" cy="171.50" r="1.75" fill="#23973f"/>
<circle cx="183.75" cy="171.50" r="1.75" fill="#23973f"/>
<circle cx="186.65" cy="171.50" r="1.75" fill="#23973f"/>
<circle cx="164.90" cy="174.00" r="1.75" fill="#23973f"/>
<circle cx="167.80" cy="174.00" r="1.75" fill="#23973f"/>
<circle cx="170.70" cy="174.00" r="1.75" fill="#23973f"/>
<circle cx="173.60" cy="174.00" r="1.75" fill="#23973f"/>
<circle cx="176.50" cy="174.00" r="1.75" fill="#23973f"/>
<circle cx="179.40" cy="174.00" r="1.75" fill="#23973f"/>
<circle cx="182.30" cy="174.00" r="1.75" fill="#23973f"/>
<circle cx="185.20" cy="174.00" r="1.75" fill="#23973f"/>
<circle cx="188.10" cy="174.00" r="1.75" fill="#23973f"/>
<circle cx="166.35" cy="176.50" r="1.75" fill="#23973f"/>
<circle cx="169.25" cy="176.50" r="1.75" fill="#23973f"/>
<circle cx="172.15" cy="176.50" r="1.75" fill="#23973f"/>
<circle cx="175.05" cy="176.50" r="1.75" fill="#23973f"/>
<circle cx="177.95" cy="176.50" r="1.75" fill="#23973f"/>
<circle cx="180.85" cy="176.50" r="1.75" fill="#23973f"/>
<circle cx="183.75" cy="176.50" r="1.75" fill="#23973f"/>
<circle cx="186.65" cy="176.50" r="1.75" fill="#23973f"/>
<circle cx="164.90" cy="179.00" r="1.75" fill="#23973f"/>
<circle cx="167.80" cy="179.00" r="1.75" fill="#23973f"/>
<circle cx="170.70" cy="179.00" r="1.75" fill="#23973f"/>
<circle cx="173.60" cy="179.00" r="1.75" fill="#23973f"/>
<circle cx="176.50" cy="179.00" r="1.75" fill="#23973f"/>
<circle cx="179.40" cy="179.00" r="1.75" fill="#23973f"/>
<circle cx="182.30" cy="179.00" r="1.75" fill="#23973f"/>
<circle cx="185.20" cy="179.00" r="1.75" fill="#23973f"/>
<circle cx="188.10" cy="179.00" r="1.75" fill="#23973f"/>
<circle cx="166.35" cy="181.50" r="1.75" fill="#23973f"/>
<circle cx="169.25" cy="181.50" r="1.75" fill="#23973f"/>
<circle cx="172.15" cy="181.50" r="1.75" fill="#23973f"/>
<circle cx="175.05" cy="181.50" r="1.75" fill="#23973f"/>
<circle cx="177.95" cy="181.50" r="1.75" fill="#23973f"/>
<circle cx="180.85" cy="181.50" r="1.75" fill="#23973f"/>
<circle cx="183.75" cy="181.50" r="1.75" fill="#23973f"/>
<circle cx="186.65" cy="181.50" r="1.75" fill="#23973f"/>
<circle cx="167.80" cy="184.00" r="1.75" fill="#23973f"/>
<circle cx="170.70" cy="184.00" r="1.75" fill="#23973f"/>
<circle cx="179.40" cy="184.00" r="1.75" fill="#23973f"/>
<circle cx="182.30" cy="184.00" r="1.75" fill="#23973f"/>
<circle cx="185.20" cy="184.00" r="1.75" fill="#23973f"/>
<circle cx="180.85" cy="186.50" r="1.75" fill="#23973f"/>
<circle cx="183.75" cy="186.50" r="1.75" fill="#23973f"/>
<circle cx="172.15" cy="161.50" r="1.2" fill="#36b352"/>
<circle cx="167.80" cy="164.00" r="1.2" fill="#36b352"/>
<circle cx="170.70" cy="164.00" r="1.2" fill="#36b352"/>
<circle cx="173.60" cy="164.00" r="1.2" fill="#36b352"/>
<circle cx="176.50" cy="164.00" r="1.2" fill="#36b352"/>
<circle cx="169.25" cy="166.50" r="1.2" fill="#36b352"/>
<circle cx="172.15" cy="166.50" r="1.2" fill="#36b352"/>
<circle cx="175.05" cy="166.50" r="1.2" fill="#36b352"/>
<circle cx="177.95" cy="166.50" r="1.2" fill="#36b352"/>
<circle cx="180.85" cy="166.50" r="1.2" fill="#36b352"/>
<circle cx="183.75" cy="166.50" r="1.2" fill="#36b352"/>
<circle cx="167.80" cy="169.00" r="1.2" fill="#36b352"/>
<circle cx="170.70" cy="169.00" r="1.2" fill="#36b352"/>
<circle cx="173.60" cy="169.00" r="1.2" fill="#36b352"/>
<circle cx="176.50" cy="169.00" r="1.2" fill="#36b352"/>
<circle cx="179.40" cy="169.00" r="1.2" fill="#36b352"/>
<circle cx="182.30" cy="169.00" r="1.2" fill="#36b352"/>
<circle cx="185.20" cy="169.00" r="1.2" fill="#36b352"/>
<circle cx="166.35" cy="171.50" r="1.2" fill="#36b352"/>
<circle cx="169.25" cy="171.50" r="1.2" fill="#36b352"/>
<circle cx="172.15" cy="171.50" r="1.2" fill="#36b352"/>
<circle cx="175.05" cy="171.50" r="1.2" fill="#36b352"/>
<circle cx="177.95" cy="171.50" r="1.2" fill="#36b352"/>
<circle cx="180.85" cy="171.50" r="1.2" fill="#36b352"/>
<circle cx="183.75" cy="171.50" r="1.2" fill="#36b352"/>
<circle cx="186.65" cy="171.50" r="1.2" fill="#36b352"/>
<circle cx="164.90" cy="174.00" r="1.2" fill="#36b352"/>
<circle cx="167.80" cy="174.00" r="1.2" fill="#36b352"/>
<circle cx="170.70" cy="174.00" r="1.2" fill="#36b352"/>
<circle cx="173.60" cy="174.00" r="1.2" fill="#36b352"/>
<circle cx="176.50" cy="174.00" r="1.2" fill="#36b352"/>
<circle cx="179.40" cy="174.00" r="1.2" fill="#36b352"/>
<circle cx="182.30" cy="174.00" r="1.2" fill="#36b352"/>
<circle cx="185.20" cy="174.00" r="1.2" fill="#36b352"/>
<circle cx="188.10" cy="174.00" r="1.2" fill="#36b352"/>
<circle cx="166.35" cy="176.50" r="1.2" fill="#36b352"/>
<circle cx="169.25" cy="176.50" r="1.2" fill="#36b352"/>
<circle cx="172.15" cy="176.50" r="1.2" fill="#36b352"/>
<circle cx="175.05" cy="176.50" r="1.2" fill="#36b352"/>
<circle cx="177.95" cy="176.50" r="1.2" fill="#36b352"/>
<circle cx="180.85" cy="176.50" r="1.2" fill="#36b352"/>
<circle cx="183.75" cy="176.50" r="1.2" fill="#36b352"/>
<circle cx="186.65" cy="176.50" r="1.2" fill="#36b352"/>
<circle cx="164.90" cy="179.00" r="1.2" fill="#36b352"/>
<circle cx="167.80" cy="179.00" r="1.2" fill="#36b352"/>
<circle cx="170.70" cy="179.00" r="1.2" fill="#36b352"/>
<circle cx="173.60" cy="179.00" r="1.2" fill="#36b352"/>
<circle cx="176.50" cy="179.00" r="1.2" fill="#36b352"/>
<circle cx="179.40" cy="179.00" r="1.2" fill="#36b352"/>
<circle cx="182.30" cy="179.00" r="1.2" fill="#36b352"/>
<circle cx="185.20" cy="179.00" r="1.2" fill="#36b352"/>
<circle cx="188.10" cy="179.00" r="1.2" fill="#36b352"/>
<circle cx="166.35" cy="181.50" r="1.2" fill="#36b352"/>
<circle cx="169.25" cy="181.50" r="1.2" fill="#36b352"/>
<circle cx="172.15" cy="181.50" r="1.2" fill="#36b352"/>
<circle cx="175.05" cy="181.50" r="1.2" fill="#36b352"/>
<circle cx="177.95" cy="181.50" r="1.2" fill="#36b352"/>
<circle cx="180.85" cy="181.50" r="1.2" fill="#36b352"/>
<circle cx="183.75" cy="181.50" r="1.2" fill="#36b352"/>
<circle cx="186.65" cy="181.50" r="1.2" fill="#36b352"/>
<circle cx="167.80" cy="184.00" r="1.2" fill="#36b352"/>
<circle cx="170.70" cy="184.00" r="1.2" fill="#36b352"/>
<circle cx="179.40" cy="184.00" r="1.2" fill="#36b352"/>
<circle cx="182.30" cy="184.00" r="1.2" fill="#36b352"/>
<circle cx="185.20" cy="184.00" r="1.2" fill="#36b352"/>
<circle cx="180.85" cy="186.50" r="1.2" fill="#36b352"/>
<circle cx="183.75" cy="186.50" r="1.2" fill="#36b352"/>
<rect x="70.5" y="197.5" width="64.0" height="42.0" fill="#fff" stroke="#2a2a2a" stroke-width="1" stroke-dasharray="1 1" stroke-dashoffset="0.5"/>
<text x="102.4" y="207.1" font-size="8.056" fill="#222" text-anchor="middle" textLength="48.55925" lengthAdjust="spacingAndGlyphs" stroke="none">Human MTCN</text>
<text x="102.4" y="216.79999999999998" font-size="8.056" fill="#222" text-anchor="middle" textLength="34.2130625" lengthAdjust="spacingAndGlyphs" stroke="none">cell line or</text>
<text x="102.4" y="226.5" font-size="8.056" fill="#222" text-anchor="middle" textLength="50.2609375" lengthAdjust="spacingAndGlyphs" stroke="none">primary patient</text>
<text x="102.4" y="236.2" font-size="8.056" fill="#222" text-anchor="middle" textLength="24.498125" lengthAdjust="spacingAndGlyphs" stroke="none">sample</text>
<rect x="152.5" y="197.5" width="50.0" height="31.0" fill="#fff" stroke="#2a2a2a" stroke-width="1" stroke-dasharray="1 1" stroke-dashoffset="0.5"/>
<text x="177.3" y="207.1" font-size="8.056" fill="#222" text-anchor="middle" textLength="37.593875" lengthAdjust="spacingAndGlyphs" stroke="none">Purification</text>
<text x="177.3" y="216.6" font-size="8.056" fill="#222" text-anchor="middle" textLength="28.5106875" lengthAdjust="spacingAndGlyphs" stroke="none">of GFP+</text>
<text x="177.3" y="225.89999999999998" font-size="8.056" fill="#222" text-anchor="middle" textLength="15.203562499999999" lengthAdjust="spacingAndGlyphs" stroke="none">cells</text>
<rect x="208.4" y="143.8" width="41.1" height="91.6" rx="3" fill="#eef4fb" stroke="#a9c6e2" stroke-width="0.9"/>
<path d="M228.60,205.42 L228.82,215.79" stroke="#eaa89c" stroke-width="1.296" fill="none" stroke-linecap="round"/>
<path d="M218.88,201.10 L215.10,207.58 L210.24,211.36" stroke="#ef9e90" stroke-width="2.484" fill="none" stroke-linecap="round" stroke-linejoin="round"/>
<path d="M238.32,201.10 L242.10,207.58 L246.96,211.36" stroke="#ef9e90" stroke-width="2.484" fill="none" stroke-linecap="round" stroke-linejoin="round"/>
<path d="M221.58,175.18 L212.18,167.19" stroke="#ecd2ca" stroke-width="3.672" fill="none" stroke-linecap="round"/>
<path d="M221.58,175.18 L212.18,167.19" stroke="#fbf2ee" stroke-width="2.484" fill="none" stroke-linecap="round"/>
<ellipse cx="211.75" cy="166.54" rx="1.62" ry="2.05" fill="#ef9e90" transform="rotate(35 211.75 166.54)"/>
<path d="M235.62,175.18 L245.02,167.19" stroke="#ecd2ca" stroke-width="3.672" fill="none" stroke-linecap="round"/>
<path d="M235.62,175.18 L245.02,167.19" stroke="#fbf2ee" stroke-width="2.484" fill="none" stroke-linecap="round"/>
<ellipse cx="245.45" cy="166.54" rx="1.62" ry="2.05" fill="#ef9e90" transform="rotate(-35 245.45 166.54)"/>
<path d="M228.60,152.50 C230.98,152.50 233.14,157.36 234.22,161.68 C234.86,164.38 234.00,167.62 234.22,169.78 C235.94,171.94 237.24,174.10 237.46,178.42 C237.67,184.90 237.67,189.22 239.62,194.08 C242.21,197.86 242.42,203.26 238.86,206.28 C235.08,208.66 222.12,208.66 218.34,206.28 C214.78,203.26 214.99,197.86 217.58,194.08 C219.53,189.22 219.53,184.90 219.74,178.42 C219.96,174.10 221.26,171.94 222.98,169.78 C223.20,167.62 222.34,164.38 222.98,161.68 C224.06,157.36 226.22,152.50 228.60,152.50 Z" fill="#fbf2ee" stroke="#ecd2ca" stroke-width="0.8640000000000001"/>
<ellipse cx="221.47" cy="162.44" rx="2.05" ry="2.59" fill="#ef9e90" transform="rotate(-20 221.47 162.44)"/>
<ellipse cx="235.73" cy="162.44" rx="2.05" ry="2.59" fill="#ef9e90" transform="rotate(20 235.73 162.44)"/>
<path d="M230.4,213.5 L245.7,226.3" stroke="#3f9a55" stroke-width="0.8"/>
<rect x="199.5" y="235.5" width="51.0" height="22.0" fill="#fff" stroke="#2a2a2a" stroke-width="1" stroke-dasharray="1 1" stroke-dashoffset="0.5"/>
<text x="225" y="245.79999999999998" font-size="8.056" fill="#222" text-anchor="middle" textLength="36.7543125" lengthAdjust="spacingAndGlyphs" stroke="none">Injection of</text>
<text x="225" y="255.39999999999998" font-size="8.056" fill="#222" text-anchor="middle" textLength="37.3765625" lengthAdjust="spacingAndGlyphs" stroke="none">GFP+ cells</text>
<path d="M253.7,146.3 H316.2 V157" stroke="#111" stroke-width="1.8" fill="none"/>
<path d="M316.2,161.5 L312.6,155.5 L316.2,157.3 L319.8,155.5 Z" fill="#111" stroke="#111" stroke-width="0.8" stroke-linejoin="round"/>
<path d="M287.5,169.2 V162.5 H342.8 V169.2" stroke="#111" stroke-width="1.1" fill="none"/>
<rect x="267.7" y="171.7" width="41.2" height="62" rx="3" fill="#eef4fb" stroke="#a9c6e2" stroke-width="0.9"/>
<rect x="321" y="171.7" width="41.2" height="62" rx="3" fill="#eef4fb" stroke="#a9c6e2" stroke-width="0.9"/>
<path d="M288.30,223.40 L288.50,233.00" stroke="#d8c0bc" stroke-width="1.2" fill="none" stroke-linecap="round"/>
<path d="M279.30,219.40 L275.80,225.40 L271.30,228.90" stroke="#cfaeaa" stroke-width="2.3" fill="none" stroke-linecap="round" stroke-linejoin="round"/>
<path d="M297.30,219.40 L300.80,225.40 L305.30,228.90" stroke="#cfaeaa" stroke-width="2.3" fill="none" stroke-linecap="round" stroke-linejoin="round"/>
<path d="M281.80,195.40 L273.10,188.00" stroke="#dcd4d0" stroke-width="3.4" fill="none" stroke-linecap="round"/>
<path d="M281.80,195.40 L273.10,188.00" stroke="#f4f1ef" stroke-width="2.3" fill="none" stroke-linecap="round"/>
<ellipse cx="272.70" cy="187.40" rx="1.50" ry="1.90" fill="#cfaeaa" transform="rotate(35 272.70 187.40)"/>
<path d="M294.80,195.40 L303.50,188.00" stroke="#dcd4d0" stroke-width="3.4" fill="none" stroke-linecap="round"/>
<path d="M294.80,195.40 L303.50,188.00" stroke="#f4f1ef" stroke-width="2.3" fill="none" stroke-linecap="round"/>
<ellipse cx="303.90" cy="187.40" rx="1.50" ry="1.90" fill="#cfaeaa" transform="rotate(-35 303.90 187.40)"/>
<path d="M288.30,174.40 C290.50,174.40 292.50,178.90 293.50,182.90 C294.10,185.40 293.30,188.40 293.50,190.40 C295.10,192.40 296.30,194.40 296.50,198.40 C296.70,204.40 296.70,208.40 298.50,212.90 C300.90,216.40 301.10,221.40 297.80,224.20 C294.30,226.40 282.30,226.40 278.80,224.20 C275.50,221.40 275.70,216.40 278.10,212.90 C279.90,208.40 279.90,204.40 280.10,198.40 C280.30,194.40 281.50,192.40 283.10,190.40 C283.30,188.40 282.50,185.40 283.10,182.90 C284.10,178.90 286.10,174.40 288.30,174.40 Z" fill="#f4f1ef" stroke="#dcd4d0" stroke-width="0.8"/>
<ellipse cx="281.70" cy="183.60" rx="1.90" ry="2.40" fill="#c9a9a9" transform="rotate(-20 281.70 183.60)"/>
<ellipse cx="294.90" cy="183.60" rx="1.90" ry="2.40" fill="#c9a9a9" transform="rotate(20 294.90 183.60)"/>
<path d="M341.60,223.40 L341.80,233.00" stroke="#dc90c8" stroke-width="1.2" fill="none" stroke-linecap="round"/>
<path d="M332.60,219.40 L329.10,225.40 L324.60,228.90" stroke="#d886c2" stroke-width="2.3" fill="none" stroke-linecap="round" stroke-linejoin="round"/>
<path d="M350.60,219.40 L354.10,225.40 L358.60,228.90" stroke="#d886c2" stroke-width="2.3" fill="none" stroke-linecap="round" stroke-linejoin="round"/>
<path d="M335.10,195.40 L326.40,188.00" stroke="#df9fd0" stroke-width="3.4" fill="none" stroke-linecap="round"/>
<path d="M335.10,195.40 L326.40,188.00" stroke="#f5d2ec" stroke-width="2.3" fill="none" stroke-linecap="round"/>
<ellipse cx="326.00" cy="187.40" rx="1.50" ry="1.90" fill="#d886c2" transform="rotate(35 326.00 187.40)"/>
<path d="M348.10,195.40 L356.80,188.00" stroke="#df9fd0" stroke-width="3.4" fill="none" stroke-linecap="round"/>
<path d="M348.10,195.40 L356.80,188.00" stroke="#f5d2ec" stroke-width="2.3" fill="none" stroke-linecap="round"/>
<ellipse cx="357.20" cy="187.40" rx="1.50" ry="1.90" fill="#d886c2" transform="rotate(-35 357.20 187.40)"/>
<path d="M341.60,174.40 C343.80,174.40 345.80,178.90 346.80,182.90 C347.40,185.40 346.60,188.40 346.80,190.40 C348.40,192.40 349.60,194.40 349.80,198.40 C350.00,204.40 350.00,208.40 351.80,212.90 C354.20,216.40 354.40,221.40 351.10,224.20 C347.60,226.40 335.60,226.40 332.10,224.20 C328.80,221.40 329.00,216.40 331.40,212.90 C333.20,208.40 333.20,204.40 333.40,198.40 C333.60,194.40 334.80,192.40 336.40,190.40 C336.60,188.40 335.80,185.40 336.40,182.90 C337.40,178.90 339.40,174.40 341.60,174.40 Z" fill="#f5d2ec" stroke="#df9fd0" stroke-width="0.8"/>
<ellipse cx="335.00" cy="183.60" rx="1.90" ry="2.40" fill="#d68ac4" transform="rotate(-20 335.00 183.60)"/>
<ellipse cx="348.20" cy="183.60" rx="1.90" ry="2.40" fill="#d68ac4" transform="rotate(20 348.20 183.60)"/>
<rect x="265.5" y="235.5" width="48.0" height="21.0" fill="#fff" stroke="#2a2a2a" stroke-width="1" stroke-dasharray="1 1" stroke-dashoffset="0.5"/>
<text x="289.3" y="243.5" font-size="8.056" fill="#222" text-anchor="middle" textLength="24.506437499999997" lengthAdjust="spacingAndGlyphs" stroke="none">Vehicle</text>
<text x="289.3" y="253.79999999999998" font-size="8.056" fill="#222" text-anchor="middle" textLength="22.8095" lengthAdjust="spacingAndGlyphs" stroke="none">control</text>
<rect x="313.5" y="235.5" width="56.0" height="10.0" fill="#fff" stroke="#2a2a2a" stroke-width="1" stroke-dasharray="1 1" stroke-dashoffset="0.5"/>
<text x="341.7" y="243.79999999999998" font-size="8.056" fill="#222" text-anchor="middle" textLength="48.1495625" lengthAdjust="spacingAndGlyphs" stroke="none">Daratumumab</text>
<rect x="393" y="134.8" width="15.5" height="6.5" rx="1.5" fill="#9a9c9e"/>
<rect x="394" y="135.5" width="13.5" height="1.8" fill="#b8babc"/>
<path d="M386,142 Q386,140.4 388,140.4 H394.3 V176.7 H386 Z" fill="#7c7e80"/>
<rect x="394.3" y="140.4" width="23.8" height="36.3" fill="#a4a6a9"/>
<rect x="394.3" y="140.4" width="23.8" height="6.5" fill="#b4b6b9"/>
<path d="M397.5,149 H414.5 Q417,160 413.5,171.5 H397.5 Z" fill="#8c8e92"/>
<path d="M399,150.5 H404 L401,170 H399 Z" fill="#9ea0a4"/>
<rect x="398.8" y="142" width="3.6" height="3.0" fill="#d9a02c"/>
<circle cx="392.6" cy="152.5" r="1.4" fill="#f2f2f2"/><circle cx="392.6" cy="165" r="1.4" fill="#f2f2f2"/>
<rect x="399" y="172.3" width="9" height="2.2" fill="#d89a9a"/>
<rect x="362.5" y="177.5" width="98.0" height="22.0" fill="#fff" stroke="#2a2a2a" stroke-width="1" stroke-dasharray="1 1" stroke-dashoffset="0.5"/>
<text x="365.5" y="187.79999999999998" font-size="8.056" fill="#222" text-anchor="start" textLength="86.59606249999999" lengthAdjust="spacingAndGlyphs" stroke="none">Luminescence monitoring</text>
<text x="365.5" y="196.79999999999998" font-size="8.056" fill="#222" text-anchor="start" textLength="24.494562499999997" lengthAdjust="spacingAndGlyphs" stroke="none">of mice</text>
<path d="M365,213 H377" stroke="#111" stroke-width="1.5"/>
<path d="M381,213 L376,210.3 L376,215.7 Z" fill="#111"/>
<circle cx="416.6" cy="226.6" r="32.5" fill="#332a2b"/>
<path d="M413.20,240.54 L413.37,256.88" stroke="#e8c4b8" stroke-width="1.032" fill="none" stroke-linecap="round"/>
<path d="M405.46,237.10 L402.45,242.26 L398.58,245.27" stroke="#e6b6a8" stroke-width="1.9779999999999998" fill="none" stroke-linecap="round" stroke-linejoin="round"/>
<path d="M420.94,237.10 L423.95,242.26 L427.82,245.27" stroke="#e6b6a8" stroke-width="1.9779999999999998" fill="none" stroke-linecap="round" stroke-linejoin="round"/>
<path d="M407.61,216.46 L400.13,210.10" stroke="#ebe0e0" stroke-width="2.924" fill="none" stroke-linecap="round"/>
<path d="M407.61,216.46 L400.13,210.10" stroke="#f9f5f5" stroke-width="1.9779999999999998" fill="none" stroke-linecap="round"/>
<ellipse cx="399.78" cy="209.58" rx="1.29" ry="1.63" fill="#e6b6a8" transform="rotate(35 399.78 209.58)"/>
<path d="M418.79,216.46 L426.27,210.10" stroke="#ebe0e0" stroke-width="2.924" fill="none" stroke-linecap="round"/>
<path d="M418.79,216.46 L426.27,210.10" stroke="#f9f5f5" stroke-width="1.9779999999999998" fill="none" stroke-linecap="round"/>
<ellipse cx="426.62" cy="209.58" rx="1.29" ry="1.63" fill="#e6b6a8" transform="rotate(-35 426.62 209.58)"/>
<path d="M413.20,198.40 C415.09,198.40 416.81,202.27 417.67,205.71 C418.19,207.86 417.50,210.44 417.67,212.16 C419.05,213.88 420.08,215.60 420.25,219.04 C420.42,224.20 420.42,227.64 421.97,231.51 C424.04,234.52 424.21,238.82 421.37,241.23 C418.36,243.12 408.04,243.12 405.03,241.23 C402.19,238.82 402.36,234.52 404.43,231.51 C405.98,227.64 405.98,224.20 406.15,219.04 C406.32,215.60 407.35,213.88 408.73,212.16 C408.90,210.44 408.21,207.86 408.73,205.71 C409.59,202.27 411.31,198.40 413.20,198.40 Z" fill="#f9f5f5" stroke="#ebe0e0" stroke-width="0.6880000000000001"/>
<ellipse cx="407.52" cy="206.31" rx="1.63" ry="2.06" fill="#e8c0b8" transform="rotate(-20 407.52 206.31)"/>
<ellipse cx="418.88" cy="206.31" rx="1.63" ry="2.06" fill="#e8c0b8" transform="rotate(20 418.88 206.31)"/>
<ellipse cx="410.5" cy="230.8" rx="3.3" ry="3.8" fill="#84c84c"/>
<ellipse cx="410.5" cy="230.8" rx="2.0" ry="2.4" fill="#6cb838"/>
<ellipse cx="419" cy="233.5" rx="2.4" ry="2.7" fill="#84c84c"/>
<defs>
<radialGradient id="mbody" cx="50%" cy="50%" r="62%">
<stop offset="0" stop-color="#f2f2f2"/><stop offset="0.5" stop-color="#e4e4e4"/><stop offset="0.8" stop-color="#c6c6c6"/><stop offset="1" stop-color="#8c8c8c"/></radialGradient>
<radialGradient id="s1"><stop offset="0" stop-color="#3a2fb8"/><stop offset="0.55" stop-color="#4d22a8"/><stop offset="0.85" stop-color="#6a2fb0"/><stop offset="1" stop-color="#8a5cc0" stop-opacity="0.3"/></radialGradient>
<radialGradient id="s2"><stop offset="0" stop-color="#2ed0cc"/><stop offset="0.25" stop-color="#28b4d4"/><stop offset="0.45" stop-color="#2a5fd6"/><stop offset="0.7" stop-color="#3a28b0"/><stop offset="0.9" stop-color="#5a22a6"/><stop offset="1" stop-color="#7a4cb8" stop-opacity="0.3"/></radialGradient>
<radialGradient id="s3"><stop offset="0" stop-color="#50d040"/><stop offset="0.25" stop-color="#28c8c0"/><stop offset="0.5" stop-color="#2a58d8"/><stop offset="0.8" stop-color="#4a22a8"/><stop offset="1" stop-color="#6a30b0" stop-opacity="0.3"/></radialGradient>
<radialGradient id="s4"><stop offset="0" stop-color="#e82018"/><stop offset="0.3" stop-color="#f03018"/><stop offset="0.45" stop-color="#e8d020"/><stop offset="0.6" stop-color="#40c840"/><stop offset="0.75" stop-color="#20b8d0"/><stop offset="0.9" stop-color="#3040d0"/><stop offset="1" stop-color="#5a28a8" stop-opacity="0.5"/></radialGradient>
<linearGradient id="cage" x1="0" y1="0" x2="1" y2="0">
<stop offset="0" stop-color="#1c1c1c"/><stop offset="0.5" stop-color="#111"/><stop offset="1" stop-color="#1c1c1c"/></linearGradient>
</defs>
<text x="7.5" y="290" font-size="10.5" fill="#000" text-anchor="start" font-weight="bold" stroke="#000" stroke-width="0.35">D</text>
<rect x="17" y="307.6" width="13.3" height="133.6" fill="#fff" stroke="#2a2a2a" stroke-width="0.9"/>
<text x="26.6" y="374.4" font-size="9.3" fill="#1a1a1a" text-anchor="middle" textLength="92.7" lengthAdjust="spacingAndGlyphs" transform="rotate(-90 26.6 374.4)"  stroke="#1a1a1a" stroke-width="0.1">MTCN Cell Line Model</text>
<text x="44.2" y="343.3" font-size="7.5" fill="#d5287e" text-anchor="middle" textLength="50" lengthAdjust="spacingAndGlyphs" transform="rotate(-90 44.2 343.3)"  stroke="#d5287e" stroke-width="0.1">Vehicle Control</text>
<text x="44.2" y="418.9" font-size="7.5" fill="#6a3a86" text-anchor="middle" textLength="47.7" lengthAdjust="spacingAndGlyphs" transform="rotate(-90 44.2 418.9)"  stroke="#6a3a86" stroke-width="0.1">Daratumumab</text>
<text x="72.1" y="304" font-size="7.7" fill="#1a1a1a" text-anchor="middle"  stroke="#1a1a1a" stroke-width="0.1">Wk 2</text>
<text x="104" y="304" font-size="7.7" fill="#1a1a1a" text-anchor="middle"  stroke="#1a1a1a" stroke-width="0.1">Wk 3</text>
<text x="133.3" y="304" font-size="7.7" fill="#1a1a1a" text-anchor="middle"  stroke="#1a1a1a" stroke-width="0.1">Wk 4</text>
<rect x="47.8" y="306.8" width="112.20" height="72.90" fill="#fdf1f8"/>
<rect x="47.8" y="383" width="112.20" height="72.00" fill="#f6f1f9"/>
<rect x="50.0" y="307.9" width="33.7" height="70.6" fill="#151515"/>
<rect x="52.0" y="307.9" width="0.8" height="70.6" fill="#1d1d1d"/><rect x="56.3" y="307.9" width="0.8" height="70.6" fill="#1d1d1d"/><rect x="60.6" y="307.9" width="0.8" height="70.6" fill="#1d1d1d"/><rect x="64.9" y="307.9" width="0.8" height="70.6" fill="#1d1d1d"/><rect x="69.2" y="307.9" width="0.8" height="70.6" fill="#1d1d1d"/><rect x="73.5" y="307.9" width="0.8" height="70.6" fill="#1d1d1d"/><rect x="77.8" y="307.9" width="0.8" height="70.6" fill="#1d1d1d"/><rect x="82.1" y="307.9" width="0.8" height="70.6" fill="#1d1d1d"/>
<rect x="85.7" y="307.9" width="34.9" height="70.6" fill="#151515"/>
<rect x="87.7" y="307.9" width="0.8" height="70.6" fill="#1d1d1d"/><rect x="92.0" y="307.9" width="0.8" height="70.6" fill="#1d1d1d"/><rect x="96.3" y="307.9" width="0.8" height="70.6" fill="#1d1d1d"/><rect x="100.6" y="307.9" width="0.8" height="70.6" fill="#1d1d1d"/><rect x="104.9" y="307.9" width="0.8" height="70.6" fill="#1d1d1d"/><rect x="109.2" y="307.9" width="0.8" height="70.6" fill="#1d1d1d"/><rect x="113.5" y="307.9" width="0.8" height="70.6" fill="#1d1d1d"/><rect x="117.8" y="307.9" width="0.8" height="70.6" fill="#1d1d1d"/>
<rect x="122.7" y="307.9" width="35.2" height="70.6" fill="#151515"/>
<rect x="124.7" y="307.9" width="0.8" height="70.6" fill="#1d1d1d"/><rect x="129.0" y="307.9" width="0.8" height="70.6" fill="#1d1d1d"/><rect x="133.3" y="307.9" width="0.8" height="70.6" fill="#1d1d1d"/><rect x="137.6" y="307.9" width="0.8" height="70.6" fill="#1d1d1d"/><rect x="141.9" y="307.9" width="0.8" height="70.6" fill="#1d1d1d"/><rect x="146.2" y="307.9" width="0.8" height="70.6" fill="#1d1d1d"/><rect x="150.5" y="307.9" width="0.8" height="70.6" fill="#1d1d1d"/><rect x="154.8" y="307.9" width="0.8" height="70.6" fill="#1d1d1d"/>
<rect x="50.0" y="384.0" width="34.3" height="70.0" fill="#151515"/>
<rect x="52.0" y="384.0" width="0.8" height="70.0" fill="#1d1d1d"/><rect x="56.3" y="384.0" width="0.8" height="70.0" fill="#1d1d1d"/><rect x="60.6" y="384.0" width="0.8" height="70.0" fill="#1d1d1d"/><rect x="64.9" y="384.0" width="0.8" height="70.0" fill="#1d1d1d"/><rect x="69.2" y="384.0" width="0.8" height="70.0" fill="#1d1d1d"/><rect x="73.5" y="384.0" width="0.8" height="70.0" fill="#1d1d1d"/><rect x="77.8" y="384.0" width="0.8" height="70.0" fill="#1d1d1d"/><rect x="82.1" y="384.0" width="0.8" height="70.0" fill="#1d1d1d"/>
<rect x="86.2" y="384.0" width="35.0" height="70.0" fill="#151515"/>
<rect x="88.2" y="384.0" width="0.8" height="70.0" fill="#1d1d1d"/><rect x="92.5" y="384.0" width="0.8" height="70.0" fill="#1d1d1d"/><rect x="96.8" y="384.0" width="0.8" height="70.0" fill="#1d1d1d"/><rect x="101.1" y="384.0" width="0.8" height="70.0" fill="#1d1d1d"/><rect x="105.4" y="384.0" width="0.8" height="70.0" fill="#1d1d1d"/><rect x="109.7" y="384.0" width="0.8" height="70.0" fill="#1d1d1d"/><rect x="114.0" y="384.0" width="0.8" height="70.0" fill="#1d1d1d"/><rect x="118.3" y="384.0" width="0.8" height="70.0" fill="#1d1d1d"/>
<rect x="122.8" y="384.0" width="35.1" height="70.0" fill="#151515"/>
<rect x="124.8" y="384.0" width="0.8" height="70.0" fill="#1d1d1d"/><rect x="129.1" y="384.0" width="0.8" height="70.0" fill="#1d1d1d"/><rect x="133.4" y="384.0" width="0.8" height="70.0" fill="#1d1d1d"/><rect x="137.7" y="384.0" width="0.8" height="70.0" fill="#1d1d1d"/><rect x="142.0" y="384.0" width="0.8" height="70.0" fill="#1d1d1d"/><rect x="146.3" y="384.0" width="0.8" height="70.0" fill="#1d1d1d"/><rect x="150.6" y="384.0" width="0.8" height="70.0" fill="#1d1d1d"/><rect x="154.9" y="384.0" width="0.8" height="70.0" fill="#1d1d1d"/>
<path d="M59.04,368.20 Q56.48,375.65 54.18,376.65" stroke="#c2c2c2" stroke-width="2.6" fill="none" stroke-linecap="round"/><path d="M64.16,371.45 L62.88,377.95" stroke="#c8c8c8" stroke-width="2.2" fill="none" stroke-linecap="round"/><path d="M76.96,368.20 Q79.52,375.65 81.82,376.65" stroke="#c2c2c2" stroke-width="2.6" fill="none" stroke-linecap="round"/><path d="M71.84,371.45 L73.12,377.95" stroke="#c8c8c8" stroke-width="2.2" fill="none" stroke-linecap="round"/>
<path d="M68.00,311.00 C69.28,311.00 70.86,311.06 71.84,311.39 C72.82,311.71 73.25,312.15 73.89,312.95 C74.53,313.75 75.13,314.90 75.68,316.20 C76.23,317.50 76.70,319.02 77.22,320.75 C77.73,322.48 78.30,324.54 78.75,326.60 C79.20,328.66 79.61,330.72 79.90,333.10 C80.20,335.48 80.39,338.08 80.54,340.90 C80.69,343.72 80.78,346.53 80.80,350.00 C80.82,353.47 80.89,358.45 80.67,361.70 C80.46,364.95 80.22,367.55 79.52,369.50 C78.82,371.45 77.73,372.48 76.45,373.40 C75.17,374.32 73.25,374.70 71.84,375.02 C70.43,375.35 69.28,375.35 68.00,375.35 C66.72,375.35 65.57,375.35 64.16,375.02 C62.75,374.70 60.83,374.32 59.55,373.40 C58.27,372.48 57.18,371.45 56.48,369.50 C55.78,367.55 55.54,364.95 55.33,361.70 C55.11,358.45 55.18,353.47 55.20,350.00 C55.22,346.53 55.31,343.72 55.46,340.90 C55.61,338.08 55.80,335.48 56.10,333.10 C56.39,330.72 56.80,328.66 57.25,326.60 C57.70,324.54 58.27,322.48 58.78,320.75 C59.30,319.02 59.77,317.50 60.32,316.20 C60.87,314.90 61.47,313.75 62.11,312.95 C62.75,312.15 63.18,311.71 64.16,311.39 C65.14,311.06 66.72,311.00 68.00,311.00 Z" fill="url(#mbody)"/>
<ellipse cx="65.0" cy="352.8" rx="1.8" ry="3.8" fill="#9a9a9a" fill-opacity="0.1"/><ellipse cx="64.3" cy="353.9" rx="3.1" ry="3.5" fill="#9a9a9a" fill-opacity="0.1"/><ellipse cx="70.5" cy="343.0" rx="1.5" ry="2.1" fill="#9a9a9a" fill-opacity="0.1"/><ellipse cx="66.5" cy="351.0" rx="3.3" ry="4.7" fill="#9a9a9a" fill-opacity="0.1"/><ellipse cx="71.6" cy="348.0" rx="3.4" ry="3.1" fill="#9a9a9a" fill-opacity="0.1"/><ellipse cx="65.3" cy="337.1" rx="3.4" ry="2.2" fill="#9a9a9a" fill-opacity="0.1"/><ellipse cx="68.9" cy="358.9" rx="1.5" ry="4.7" fill="#9a9a9a" fill-opacity="0.1"/>
<ellipse cx="57.6" cy="360.4" rx="4.2" ry="4.8" fill="url(#s1)"/>
<ellipse cx="79.3" cy="360.5" rx="3.4" ry="4.4" fill="url(#s1)"/>
<ellipse cx="70.3" cy="327.8" rx="1.6" ry="1.8" fill="url(#s1)"/>
<path d="M91.96,367.13 Q88.86,374.66 86.15,375.66" stroke="#c2c2c2" stroke-width="2.6" fill="none" stroke-linecap="round"/><path d="M98.20,370.41 L96.69,376.97" stroke="#c8c8c8" stroke-width="2.2" fill="none" stroke-linecap="round"/><path d="M113.66,367.13 Q116.76,374.66 119.63,375.66" stroke="#c2c2c2" stroke-width="2.6" fill="none" stroke-linecap="round"/><path d="M107.50,370.41 L109.09,376.97" stroke="#c8c8c8" stroke-width="2.2" fill="none" stroke-linecap="round"/>
<path d="M102.11,309.40 C103.66,309.40 105.57,309.47 106.77,309.79 C107.96,310.12 108.48,310.56 109.27,311.37 C110.05,312.18 110.79,313.34 111.47,314.65 C112.16,315.96 112.75,317.49 113.39,319.24 C114.03,320.99 114.75,323.07 115.32,325.14 C115.89,327.22 116.40,329.30 116.79,331.70 C117.18,334.11 117.44,336.73 117.66,339.58 C117.87,342.42 118.01,345.26 118.08,348.76 C118.14,352.26 118.28,357.29 118.06,360.57 C117.84,363.85 117.59,366.47 116.76,368.44 C115.93,370.41 114.63,371.45 113.09,372.38 C111.55,373.31 109.23,373.69 107.53,374.02 C105.82,374.34 104.43,374.34 102.88,374.34 C101.33,374.34 99.93,374.34 98.23,374.02 C96.52,373.69 94.19,373.31 92.63,372.38 C91.07,371.45 89.74,370.41 88.86,368.44 C87.98,366.47 87.67,363.85 87.37,360.57 C87.07,357.29 87.09,352.26 87.08,348.76 C87.06,345.26 87.13,342.42 87.28,339.58 C87.43,336.73 87.63,334.11 87.96,331.70 C88.29,329.30 88.76,327.22 89.28,325.14 C89.80,323.07 90.47,320.99 91.07,319.24 C91.67,317.49 92.22,315.96 92.87,314.65 C93.53,313.34 94.24,312.18 95.01,311.37 C95.77,310.56 96.28,310.12 97.47,309.79 C98.65,309.47 100.56,309.40 102.11,309.40 Z" fill="url(#mbody)"/>
<ellipse cx="93.7" cy="344.3" rx="2.3" ry="2.8" fill="#9a9a9a" fill-opacity="0.1"/><ellipse cx="103.9" cy="341.6" rx="2.9" ry="3.0" fill="#9a9a9a" fill-opacity="0.1"/><ellipse cx="103.2" cy="346.6" rx="1.7" ry="3.9" fill="#9a9a9a" fill-opacity="0.1"/><ellipse cx="98.7" cy="364.0" rx="2.9" ry="4.2" fill="#9a9a9a" fill-opacity="0.1"/><ellipse cx="108.4" cy="322.6" rx="1.5" ry="4.0" fill="#9a9a9a" fill-opacity="0.1"/><ellipse cx="109.4" cy="343.6" rx="3.3" ry="2.5" fill="#9a9a9a" fill-opacity="0.1"/><ellipse cx="101.8" cy="330.0" rx="2.3" ry="2.6" fill="#9a9a9a" fill-opacity="0.1"/>
<path d="M87.6,337 C89,334 93,334 96,338 C100,342 103,348 106,356 C108,363 108.5,370 105,373 L95,373 C91,370 88,364 87.4,356 Z" fill="#4e1fa2"/>
<path d="M112,321 C114.5,320 117,324 117.6,332 C118.5,344 118.3,360 117,370 C115.5,374 112.5,374 111.5,370 C110.5,360 111.5,348 110.8,336 C110.3,328 110,323 112,321 Z" fill="#4e1fa2"/>
<path d="M92,330 C94,328 98,329 99,332 C100,335 97,337 94,336 Z" fill="#4e1fa2"/>
<path d="M92,368 C98,366 106,364 111,366 C114,368 114,372 111,374 L94,374 C91,373 90.5,370 92,368 Z" fill="#4e1fa2"/>
<path d="M104,328 C106,326 109,327 109,330 C108,333 105,333 104,331 Z" fill="#4e1fa2"/>
<ellipse cx="100.5" cy="314.8" rx="6.2" ry="5.6" fill="url(#s1)"/>
<ellipse cx="95.3" cy="321.8" rx="2.6" ry="2.6" fill="url(#s1)"/>
<ellipse cx="100.3" cy="346" rx="5.0" ry="5.0" fill="url(#s2)"/>
<ellipse cx="94.3" cy="359" rx="4.8" ry="5.0" fill="url(#s2)"/>
<path d="M137.00,312.50 C138.28,312.50 139.86,312.56 140.84,312.87 C141.82,313.18 142.25,313.59 142.89,314.35 C143.53,315.10 144.13,316.19 144.68,317.42 C145.23,318.65 145.70,320.09 146.22,321.73 C146.73,323.37 147.30,325.31 147.75,327.26 C148.20,329.21 148.61,331.16 148.90,333.41 C149.20,335.67 149.39,338.12 149.54,340.79 C149.69,343.46 149.78,346.12 149.80,349.40 C149.82,352.68 149.89,357.40 149.67,360.47 C149.46,363.55 149.22,366.00 148.52,367.85 C147.82,369.70 146.73,370.67 145.45,371.54 C144.17,372.41 142.25,372.77 140.84,373.08 C139.43,373.38 138.28,373.38 137.00,373.38 C135.72,373.38 134.57,373.38 133.16,373.08 C131.75,372.77 129.83,372.41 128.55,371.54 C127.27,370.67 126.18,369.70 125.48,367.85 C124.78,366.00 124.54,363.55 124.33,360.47 C124.11,357.40 124.18,352.68 124.20,349.40 C124.22,346.12 124.31,343.46 124.46,340.79 C124.61,338.12 124.80,335.67 125.10,333.41 C125.39,331.16 125.80,329.21 126.25,327.26 C126.70,325.31 127.27,323.37 127.78,321.73 C128.30,320.09 128.77,318.65 129.32,317.42 C129.87,316.19 130.47,315.10 131.11,314.35 C131.75,313.59 132.18,313.18 133.16,312.87 C134.14,312.56 135.72,312.50 137.00,312.50 Z" fill="#3038c8"/>
<path d="M136.80,314.50 C137.92,314.50 139.30,314.55 140.16,314.83 C141.02,315.10 141.39,315.46 141.95,316.13 C142.51,316.81 143.03,317.77 143.52,318.86 C144.01,319.95 144.42,321.22 144.86,322.68 C145.31,324.13 145.82,325.85 146.21,327.58 C146.60,329.31 146.95,331.03 147.22,333.03 C147.48,335.03 147.65,337.21 147.78,339.57 C147.91,341.93 147.98,344.29 148.00,347.20 C148.02,350.11 148.07,354.28 147.89,357.01 C147.70,359.74 147.50,361.92 146.88,363.55 C146.26,365.19 145.31,366.05 144.19,366.82 C143.07,367.59 141.39,367.91 140.16,368.18 C138.93,368.45 137.92,368.45 136.80,368.45 C135.68,368.45 134.67,368.45 133.44,368.18 C132.21,367.91 130.53,367.59 129.41,366.82 C128.29,366.05 127.34,365.19 126.72,363.55 C126.10,361.92 125.90,359.74 125.71,357.01 C125.53,354.28 125.58,350.11 125.60,347.20 C125.62,344.29 125.69,341.93 125.82,339.57 C125.95,337.21 126.12,335.03 126.38,333.03 C126.65,331.03 127.00,329.31 127.39,327.58 C127.78,325.85 128.29,324.13 128.74,322.68 C129.18,321.22 129.59,319.95 130.08,318.86 C130.57,317.77 131.09,316.81 131.65,316.13 C132.21,315.46 132.58,315.10 133.44,314.83 C134.30,314.55 135.68,314.50 136.80,314.50 Z" fill="#3cc03c"/>
<path d="M126,326 C128,322 132,322 133,326 C134,331 131,335 127,336 C125.5,333 125.5,329 126,326 Z" fill="#22b8d0"/>
<path d="M141,331 C144,329 147.5,332 147.5,338 C147.5,344 145,347 142,346 C140,343 139.5,335 141,331 Z" fill="#22b8d0"/>
<path d="M127,358 C131,356 139,357 142,360 C143,365 138,369 131,368 C128,366 126.5,362 127,358 Z" fill="#22b8d0"/>
<path d="M138,354 C141,352 145,354 145,358 C144,362 140,363 138,361 Z" fill="#22b8d0"/>
<path d="M134,324 C137,322 141,324 141,328 C141,333 138,337 135,336 C133,333 132,328 134,324 Z" fill="#4a24aa"/>
<path d="M139,318 C142,317 145,319 145,322 C143,325 140,324 139,318 Z" fill="#4a24aa"/>
<path d="M129,337 C131,336 133,338 132,340 C130,341 128.5,339 129,337 Z" fill="#4a24aa"/>
<path d="M139,348 C141,345 144,346 144.5,349 C144,353 141,355 139.5,353 Z" fill="#3a2fb8"/>
<path d="M124.5,339 C129,336 135,336 138.5,340 C140.5,345 139.5,354 136,358.5 C132,361.5 126.5,360.5 124.5,356.5 C123.8,351 123.8,344 124.5,339 Z" fill="#e4dc2a"/>
<path d="M125.3,340.8 C129.5,338.4 134.5,338.6 137.2,341.8 C138.6,346 138,353 135.2,356.7 C131.6,359.2 127.3,358.6 125.6,355 C124.9,350.5 124.9,345 125.3,340.8 Z" fill="#ee2c16"/>
<ellipse cx="146.8" cy="352" rx="2.6" ry="3.4" fill="url(#s4)"/>
<ellipse cx="131.6" cy="315.8" rx="2.8" ry="2.5" fill="url(#s4)"/>
<path d="M56.42,442.44 Q53.62,449.63 51.03,450.63" stroke="#c2c2c2" stroke-width="2.6" fill="none" stroke-linecap="round"/><path d="M61.98,445.59 L60.55,451.89" stroke="#c8c8c8" stroke-width="2.2" fill="none" stroke-linecap="round"/><path d="M76.02,442.44 Q78.82,449.63 81.27,450.63" stroke="#c2c2c2" stroke-width="2.6" fill="none" stroke-linecap="round"/><path d="M70.39,445.59 L71.75,451.89" stroke="#c8c8c8" stroke-width="2.2" fill="none" stroke-linecap="round"/>
<path d="M66.85,387.00 C68.25,387.00 69.98,387.06 71.05,387.38 C72.12,387.69 72.58,388.11 73.27,388.89 C73.96,389.67 74.60,390.78 75.19,392.04 C75.79,393.30 76.28,394.77 76.83,396.45 C77.37,398.13 77.97,400.12 78.44,402.12 C78.91,404.12 79.33,406.11 79.63,408.42 C79.93,410.73 80.12,413.25 80.25,415.98 C80.38,418.71 80.44,421.44 80.43,424.80 C80.42,428.16 80.43,432.99 80.16,436.14 C79.90,439.29 79.61,441.81 78.82,443.70 C78.03,445.59 76.83,446.59 75.42,447.48 C74.01,448.37 71.90,448.74 70.36,449.06 C68.82,449.37 67.56,449.37 66.16,449.37 C64.76,449.37 63.50,449.37 61.96,449.06 C60.42,448.74 58.33,448.37 56.94,447.48 C55.55,446.59 54.37,445.59 53.62,443.70 C52.87,441.81 52.64,439.29 52.44,436.14 C52.25,432.99 52.37,428.16 52.43,424.80 C52.49,421.44 52.61,418.71 52.81,415.98 C53.00,413.25 53.24,410.73 53.59,408.42 C53.94,406.11 54.41,404.12 54.92,402.12 C55.43,400.12 56.09,398.13 56.66,396.45 C57.24,394.77 57.77,393.30 58.39,392.04 C59.01,390.78 59.68,389.67 60.39,388.89 C61.10,388.11 61.57,387.69 62.65,387.38 C63.72,387.06 65.45,387.00 66.85,387.00 Z" fill="url(#mbody)"/>
<ellipse cx="71.8" cy="426.8" rx="2.4" ry="3.5" fill="#9a9a9a" fill-opacity="0.1"/><ellipse cx="64.2" cy="426.3" rx="2.0" ry="2.8" fill="#9a9a9a" fill-opacity="0.1"/><ellipse cx="67.0" cy="414.3" rx="1.9" ry="4.6" fill="#9a9a9a" fill-opacity="0.1"/><ellipse cx="70.0" cy="441.4" rx="1.8" ry="5.0" fill="#9a9a9a" fill-opacity="0.1"/><ellipse cx="59.4" cy="415.7" rx="2.9" ry="4.2" fill="#9a9a9a" fill-opacity="0.1"/><ellipse cx="65.4" cy="440.3" rx="3.4" ry="4.1" fill="#9a9a9a" fill-opacity="0.1"/><ellipse cx="64.0" cy="413.2" rx="2.8" ry="2.8" fill="#9a9a9a" fill-opacity="0.1"/>
<path d="M94.18,442.84 Q91.66,449.60 89.39,450.60" stroke="#c2c2c2" stroke-width="2.6" fill="none" stroke-linecap="round"/><path d="M99.22,445.82 L97.96,451.79" stroke="#c8c8c8" stroke-width="2.2" fill="none" stroke-linecap="round"/><path d="M111.82,442.84 Q114.34,449.60 116.61,450.60" stroke="#c2c2c2" stroke-width="2.6" fill="none" stroke-linecap="round"/><path d="M106.78,445.82 L108.04,451.79" stroke="#c8c8c8" stroke-width="2.2" fill="none" stroke-linecap="round"/>
<path d="M103.00,390.30 C104.26,390.30 105.81,390.36 106.78,390.66 C107.75,390.96 108.17,391.35 108.80,392.09 C109.43,392.83 110.01,393.88 110.56,395.08 C111.11,396.27 111.57,397.66 112.07,399.25 C112.58,400.85 113.14,402.74 113.58,404.63 C114.03,406.52 114.42,408.41 114.72,410.60 C115.01,412.79 115.20,415.18 115.35,417.76 C115.50,420.35 115.58,422.94 115.60,426.12 C115.62,429.30 115.68,433.88 115.47,436.87 C115.26,439.85 115.03,442.24 114.34,444.03 C113.65,445.82 112.58,446.77 111.32,447.61 C110.06,448.46 108.17,448.81 106.78,449.10 C105.39,449.40 104.26,449.40 103.00,449.40 C101.74,449.40 100.61,449.40 99.22,449.10 C97.83,448.81 95.94,448.46 94.68,447.61 C93.42,446.77 92.35,445.82 91.66,444.03 C90.97,442.24 90.74,439.85 90.53,436.87 C90.32,433.88 90.38,429.30 90.40,426.12 C90.42,422.94 90.50,420.35 90.65,417.76 C90.80,415.18 90.99,412.79 91.28,410.60 C91.58,408.41 91.97,406.52 92.42,404.63 C92.86,402.74 93.42,400.85 93.93,399.25 C94.43,397.66 94.89,396.27 95.44,395.08 C95.99,393.88 96.57,392.83 97.20,392.09 C97.83,391.35 98.25,390.96 99.22,390.66 C100.19,390.36 101.74,390.30 103.00,390.30 Z" fill="url(#mbody)"/>
<ellipse cx="98.7" cy="416.6" rx="2.8" ry="3.1" fill="#9a9a9a" fill-opacity="0.1"/><ellipse cx="96.7" cy="423.3" rx="1.9" ry="4.7" fill="#9a9a9a" fill-opacity="0.1"/><ellipse cx="100.6" cy="430.8" rx="2.4" ry="3.9" fill="#9a9a9a" fill-opacity="0.1"/><ellipse cx="110.0" cy="409.6" rx="2.0" ry="2.1" fill="#9a9a9a" fill-opacity="0.1"/><ellipse cx="102.7" cy="416.8" rx="2.1" ry="2.4" fill="#9a9a9a" fill-opacity="0.1"/><ellipse cx="105.0" cy="426.7" rx="3.4" ry="4.7" fill="#9a9a9a" fill-opacity="0.1"/><ellipse cx="97.2" cy="427.2" rx="1.5" ry="2.9" fill="#9a9a9a" fill-opacity="0.1"/>
<ellipse cx="97.3" cy="402.5" rx="3.6" ry="3.4" fill="url(#s1)"/>
<ellipse cx="99.1" cy="413.7" rx="2.2" ry="2.2" fill="url(#s1)"/>
<ellipse cx="111.8" cy="434.9" rx="4.4" ry="4.6" fill="url(#s2)"/>
<path d="M128.90,442.50 Q126.30,449.62 123.96,450.62" stroke="#c2c2c2" stroke-width="2.6" fill="none" stroke-linecap="round"/><path d="M134.10,445.62 L132.80,451.88" stroke="#c8c8c8" stroke-width="2.2" fill="none" stroke-linecap="round"/><path d="M147.10,442.50 Q149.70,449.62 152.04,450.62" stroke="#c2c2c2" stroke-width="2.6" fill="none" stroke-linecap="round"/><path d="M141.90,445.62 L143.20,451.88" stroke="#c8c8c8" stroke-width="2.2" fill="none" stroke-linecap="round"/>
<path d="M138.00,387.50 C139.30,387.50 140.90,387.56 141.90,387.88 C142.90,388.19 143.33,388.60 143.98,389.38 C144.63,390.15 145.24,391.25 145.80,392.50 C146.36,393.75 146.84,395.21 147.36,396.88 C147.88,398.54 148.46,400.52 148.92,402.50 C149.38,404.48 149.79,406.46 150.09,408.75 C150.39,411.04 150.59,413.54 150.74,416.25 C150.89,418.96 150.98,421.67 151.00,425.00 C151.02,428.33 151.09,433.12 150.87,436.25 C150.65,439.38 150.41,441.88 149.70,443.75 C148.98,445.62 147.88,446.61 146.58,447.50 C145.28,448.39 143.33,448.75 141.90,449.06 C140.47,449.38 139.30,449.38 138.00,449.38 C136.70,449.38 135.53,449.38 134.10,449.06 C132.67,448.75 130.72,448.39 129.42,447.50 C128.12,446.61 127.02,445.62 126.30,443.75 C125.58,441.88 125.35,439.38 125.13,436.25 C124.91,433.12 124.98,428.33 125.00,425.00 C125.02,421.67 125.11,418.96 125.26,416.25 C125.41,413.54 125.61,411.04 125.91,408.75 C126.21,406.46 126.62,404.48 127.08,402.50 C127.53,400.52 128.12,398.54 128.64,396.88 C129.16,395.21 129.64,393.75 130.20,392.50 C130.76,391.25 131.37,390.15 132.02,389.38 C132.67,388.60 133.10,388.19 134.10,387.88 C135.10,387.56 136.70,387.50 138.00,387.50 Z" fill="url(#mbody)"/>
<ellipse cx="133.4" cy="426.5" rx="2.9" ry="3.4" fill="#9a9a9a" fill-opacity="0.1"/><ellipse cx="133.5" cy="416.9" rx="1.6" ry="4.0" fill="#9a9a9a" fill-opacity="0.1"/><ellipse cx="145.2" cy="410.5" rx="3.1" ry="2.5" fill="#9a9a9a" fill-opacity="0.1"/><ellipse cx="143.2" cy="436.7" rx="1.9" ry="2.4" fill="#9a9a9a" fill-opacity="0.1"/><ellipse cx="141.4" cy="416.3" rx="2.2" ry="5.0" fill="#9a9a9a" fill-opacity="0.1"/><ellipse cx="142.8" cy="403.4" rx="1.6" ry="3.9" fill="#9a9a9a" fill-opacity="0.1"/><ellipse cx="131.4" cy="439.1" rx="2.4" ry="2.4" fill="#9a9a9a" fill-opacity="0.1"/>
<ellipse cx="147.4" cy="434.9" rx="5.0" ry="5.2" fill="url(#s2)"/>
<ellipse cx="125.9" cy="430.5" rx="2.0" ry="2.4" fill="url(#s1)"/>
<ellipse cx="137.5" cy="388.5" rx="2.2" ry="1.8" fill="url(#s1)"/>
<rect x="48.35" y="307.35" width="111.10" height="71.80" fill="none" stroke="#c81e74" stroke-width="1.1"/>
<line x1="48" y1="378.8" x2="159.8" y2="378.8" stroke="#c81e74" stroke-width="1.8"/>
<rect x="48.35" y="383.55" width="111.10" height="70.90" fill="none" stroke="#4e3060" stroke-width="1.1"/>
<text x="174.5" y="290.5" font-size="10.5" fill="#000" text-anchor="start" font-weight="bold" stroke="#000" stroke-width="0.35">E</text>
<line x1="227.2" y1="308.3" x2="227.2" y2="335.6" stroke="#333" stroke-width="1.3" />
<line x1="224.2" y1="311.4" x2="227.2" y2="311.4" stroke="#333" stroke-width="0.9" />
<text x="221" y="312.79999999999995" font-size="4.0" fill="#222" text-anchor="end" textLength="18.8" lengthAdjust="spacingAndGlyphs" stroke="#222" stroke-width="0.1">2.0&#215;10<tspan font-size="2.60" dy="-1.68">9</tspan></text>
<line x1="224.2" y1="316.15999999999997" x2="227.2" y2="316.15999999999997" stroke="#333" stroke-width="0.9" />
<text x="221" y="317.55999999999995" font-size="4.0" fill="#222" text-anchor="end" textLength="18.8" lengthAdjust="spacingAndGlyphs" stroke="#222" stroke-width="0.1">1.8&#215;10<tspan font-size="2.60" dy="-1.68">9</tspan></text>
<line x1="224.2" y1="320.91999999999996" x2="227.2" y2="320.91999999999996" stroke="#333" stroke-width="0.9" />
<text x="221" y="322.31999999999994" font-size="4.0" fill="#222" text-anchor="end" textLength="18.8" lengthAdjust="spacingAndGlyphs" stroke="#222" stroke-width="0.1">1.6&#215;10<tspan font-size="2.60" dy="-1.68">9</tspan></text>
<line x1="224.2" y1="325.67999999999995" x2="227.2" y2="325.67999999999995" stroke="#333" stroke-width="0.9" />
<text x="221" y="327.0799999999999" font-size="4.0" fill="#222" text-anchor="end" textLength="18.8" lengthAdjust="spacingAndGlyphs" stroke="#222" stroke-width="0.1">1.4&#215;10<tspan font-size="2.60" dy="-1.68">9</tspan></text>
<line x1="224.2" y1="330.44" x2="227.2" y2="330.44" stroke="#333" stroke-width="0.9" />
<text x="221" y="331.84" font-size="4.0" fill="#222" text-anchor="end" textLength="18.8" lengthAdjust="spacingAndGlyphs" stroke="#222" stroke-width="0.1">1.2&#215;10<tspan font-size="2.60" dy="-1.68">9</tspan></text>
<line x1="224.2" y1="335.2" x2="227.2" y2="335.2" stroke="#333" stroke-width="0.9" />
<text x="221" y="336.59999999999997" font-size="4.0" fill="#222" text-anchor="end" textLength="18.8" lengthAdjust="spacingAndGlyphs" stroke="#222" stroke-width="0.1">1.0&#215;10<tspan font-size="2.60" dy="-1.68">9</tspan></text>
<line x1="227.2" y1="344.3" x2="227.2" y2="439.5" stroke="#333" stroke-width="1.3" />
<line x1="224.2" y1="344.5" x2="230.2" y2="344.5" stroke="#333" stroke-width="0.9" />
<line x1="224.2" y1="344.5" x2="227.2" y2="344.5" stroke="#333" stroke-width="0.9" />
<text x="221" y="347.1" font-size="7.4" fill="#222" text-anchor="end" textLength="21.5" lengthAdjust="spacingAndGlyphs" stroke="#222" stroke-width="0.1">1&#215;10<tspan font-size="4.81" dy="-3.11">9</tspan></text>
<line x1="224.2" y1="363.5" x2="227.2" y2="363.5" stroke="#333" stroke-width="0.9" />
<text x="221" y="366.1" font-size="7.4" fill="#222" text-anchor="end" textLength="21.5" lengthAdjust="spacingAndGlyphs" stroke="#222" stroke-width="0.1">8&#215;10<tspan font-size="4.81" dy="-3.11">8</tspan></text>
<line x1="224.2" y1="382.5" x2="227.2" y2="382.5" stroke="#333" stroke-width="0.9" />
<text x="221" y="385.1" font-size="7.4" fill="#222" text-anchor="end" textLength="21.5" lengthAdjust="spacingAndGlyphs" stroke="#222" stroke-width="0.1">6&#215;10<tspan font-size="4.81" dy="-3.11">8</tspan></text>
<line x1="224.2" y1="401.5" x2="227.2" y2="401.5" stroke="#333" stroke-width="0.9" />
<text x="221" y="404.1" font-size="7.4" fill="#222" text-anchor="end" textLength="21.5" lengthAdjust="spacingAndGlyphs" stroke="#222" stroke-width="0.1">4&#215;10<tspan font-size="4.81" dy="-3.11">8</tspan></text>
<line x1="224.2" y1="420.5" x2="227.2" y2="420.5" stroke="#333" stroke-width="0.9" />
<text x="221" y="423.1" font-size="7.4" fill="#222" text-anchor="end" textLength="21.5" lengthAdjust="spacingAndGlyphs" stroke="#222" stroke-width="0.1">2&#215;10<tspan font-size="4.81" dy="-3.11">8</tspan></text>
<text x="221" y="442.2" font-size="7.4" fill="#222" text-anchor="end"  stroke="#222" stroke-width="0.1">0</text>
<line x1="224.2" y1="439.5" x2="227.2" y2="439.5" stroke="#333" stroke-width="0.9" />
<line x1="227.2" y1="439.5" x2="336.3" y2="439.5" stroke="#333" stroke-width="1.3" />
<line x1="247" y1="439.5" x2="247" y2="442.2" stroke="#333" stroke-width="0.9" />
<text x="247" y="452.6" font-size="7.2" fill="#222" text-anchor="middle" textLength="18.368280000000002" lengthAdjust="spacingAndGlyphs"  stroke="#222" stroke-width="0.1">Wk 2</text>
<line x1="287.6" y1="439.5" x2="287.6" y2="442.2" stroke="#333" stroke-width="0.9" />
<text x="287.6" y="452.6" font-size="7.2" fill="#222" text-anchor="middle" textLength="18.368280000000002" lengthAdjust="spacingAndGlyphs"  stroke="#222" stroke-width="0.1">Wk 3</text>
<line x1="328" y1="439.5" x2="328" y2="442.2" stroke="#333" stroke-width="0.9" />
<text x="328" y="452.6" font-size="7.2" fill="#222" text-anchor="middle" textLength="18.368280000000002" lengthAdjust="spacingAndGlyphs"  stroke="#222" stroke-width="0.1">Wk 4</text>
<text x="184.3" y="374.3" font-size="7.5" fill="#1a1a1a" text-anchor="middle" font-weight="bold" textLength="79" lengthAdjust="spacingAndGlyphs" transform="rotate(-90 184.3 374.3)" >Total flux (photons/second)</text>
<text x="233.8" y="315.9" font-size="7.6" fill="#cc2f82" text-anchor="start" textLength="51.8" lengthAdjust="spacingAndGlyphs"  stroke="#cc2f82" stroke-width="0.1">Vehicle Control</text>
<text x="233.8" y="325.9" font-size="7.6" fill="#4f2c60" text-anchor="start" textLength="46.8" lengthAdjust="spacingAndGlyphs"  stroke="#4f2c60" stroke-width="0.1">Daratumumab</text>
<polyline points="246.5,439 287.6,434.6 327.6,432.6" fill="none" stroke="#46244f" stroke-width="1.5"/>
<polyline points="246.5,437.6 287.4,423.6 327.5,323" fill="none" stroke="#d6308a" stroke-width="1.5"/>
<circle cx="246.5" cy="438.8" r="2.2" fill="none" stroke="#46244f" stroke-width="1.1"/>
<circle cx="244.5" cy="438" r="2.2" fill="none" stroke="#46244f" stroke-width="1.1"/>
<circle cx="287.6" cy="433.6" r="2.2" fill="none" stroke="#46244f" stroke-width="1.1"/>
<circle cx="287.6" cy="435.8" r="2.2" fill="none" stroke="#46244f" stroke-width="1.1"/>
<circle cx="327.6" cy="431" r="2.2" fill="none" stroke="#46244f" stroke-width="1.1"/>
<circle cx="327.6" cy="434" r="2.2" fill="none" stroke="#46244f" stroke-width="1.1"/>
<path d="M285.6,437.2 L289.6,437.2 L287.6,440.6 Z" fill="#46244f"/>
<circle cx="287.6" cy="431" r="2.2" fill="none" stroke="#a0407f" stroke-width="1.1"/>
<circle cx="244.8" cy="436" r="2.2" fill="none" stroke="#d6308a" stroke-width="1.1"/>
<circle cx="248.4" cy="435.8" r="2.2" fill="none" stroke="#d6308a" stroke-width="1.1"/>
<circle cx="246.6" cy="438.2" r="2.2" fill="none" stroke="#d6308a" stroke-width="1.1"/>
<circle cx="243.8" cy="438.6" r="2.2" fill="none" stroke="#d6308a" stroke-width="1.1"/>
<circle cx="249.2" cy="438.4" r="2.2" fill="none" stroke="#d6308a" stroke-width="1.1"/>
<circle cx="285.6" cy="420.2" r="2.2" fill="none" stroke="#d6308a" stroke-width="1.1"/>
<circle cx="289.6" cy="420.2" r="2.2" fill="none" stroke="#d6308a" stroke-width="1.1"/>
<circle cx="285.6" cy="423" r="2.2" fill="none" stroke="#d6308a" stroke-width="1.1"/>
<circle cx="289.6" cy="423" r="2.2" fill="none" stroke="#d6308a" stroke-width="1.1"/>
<circle cx="325.4" cy="316.8" r="2.2" fill="none" stroke="#d6308a" stroke-width="1.1"/>
<circle cx="329.9" cy="320.7" r="2.2" fill="none" stroke="#d6308a" stroke-width="1.1"/>
<circle cx="328" cy="329.8" r="2.2" fill="none" stroke="#d6308a" stroke-width="1.1"/>
<path d="M333.3,337.5 H336.3 V424.8 H333.3" fill="none" stroke="#444" stroke-width="0.9"/>
<text x="332.6" y="380.6" font-size="7.2" fill="#222" text-anchor="middle" textLength="34.5" lengthAdjust="spacingAndGlyphs" transform="rotate(-90 332.6 380.6)" stroke="#222" stroke-width="0.1"><tspan font-style="italic">P</tspan> &lt; .0001</text>
<text x="353.2" y="290" font-size="10.5" fill="#000" text-anchor="start" font-weight="bold" stroke="#000" stroke-width="0.35">F</text>
<line x1="395.5" y1="321.2" x2="395.5" y2="440" stroke="#333" stroke-width="1.3" />
<line x1="392.5" y1="440.0" x2="395.5" y2="440.0" stroke="#333" stroke-width="0.9" />
<text x="390.3" y="442.5" font-size="7.2" fill="#222" text-anchor="end" textLength="4.324185" lengthAdjust="spacingAndGlyphs"  stroke="#222" stroke-width="0.1">0</text>
<line x1="392.5" y1="416.35" x2="395.5" y2="416.35" stroke="#333" stroke-width="0.9" />
<text x="390.3" y="418.85" font-size="7.2" fill="#222" text-anchor="end" textLength="8.64837" lengthAdjust="spacingAndGlyphs"  stroke="#222" stroke-width="0.1">20</text>
<line x1="392.5" y1="392.7" x2="395.5" y2="392.7" stroke="#333" stroke-width="0.9" />
<text x="390.3" y="395.2" font-size="7.2" fill="#222" text-anchor="end" textLength="8.64837" lengthAdjust="spacingAndGlyphs"  stroke="#222" stroke-width="0.1">40</text>
<line x1="392.5" y1="369.05" x2="395.5" y2="369.05" stroke="#333" stroke-width="0.9" />
<text x="390.3" y="371.55" font-size="7.2" fill="#222" text-anchor="end" textLength="8.64837" lengthAdjust="spacingAndGlyphs"  stroke="#222" stroke-width="0.1">60</text>
<line x1="392.5" y1="345.4" x2="395.5" y2="345.4" stroke="#333" stroke-width="0.9" />
<text x="390.3" y="347.9" font-size="7.2" fill="#222" text-anchor="end" textLength="8.64837" lengthAdjust="spacingAndGlyphs"  stroke="#222" stroke-width="0.1">80</text>
<line x1="392.5" y1="321.75" x2="395.5" y2="321.75" stroke="#333" stroke-width="0.9" />
<text x="390.3" y="324.25" font-size="7.2" fill="#222" text-anchor="end" textLength="12.972555000000003" lengthAdjust="spacingAndGlyphs"  stroke="#222" stroke-width="0.1">100</text>
<line x1="395.5" y1="440" x2="423.8" y2="440" stroke="#333" stroke-width="1.3" />
<line x1="428.75" y1="440" x2="511.3" y2="440" stroke="#333" stroke-width="1.3" />
<line x1="395.5" y1="440" x2="395.5" y2="442.5" stroke="#333" stroke-width="0.9" />
<line x1="410" y1="440" x2="410" y2="442.5" stroke="#333" stroke-width="0.9" />
<line x1="423" y1="440" x2="423" y2="442.5" stroke="#333" stroke-width="0.9" />
<line x1="448.75" y1="440" x2="448.75" y2="442.5" stroke="#333" stroke-width="0.9" />
<line x1="468.75" y1="440" x2="468.75" y2="442.5" stroke="#333" stroke-width="0.9" />
<line x1="488.75" y1="440" x2="488.75" y2="442.5" stroke="#333" stroke-width="0.9" />
<line x1="508.75" y1="440" x2="508.75" y2="442.5" stroke="#333" stroke-width="0.9" />
<text x="395.5" y="452.1" font-size="7.2" fill="#222" text-anchor="middle" textLength="4.324185" lengthAdjust="spacingAndGlyphs"  stroke="#222" stroke-width="0.1">0</text>
<text x="410.8" y="452.1" font-size="7.2" fill="#222" text-anchor="middle" textLength="8.64837" lengthAdjust="spacingAndGlyphs"  stroke="#222" stroke-width="0.1">10</text>
<text x="421.4" y="452.1" font-size="7.2" fill="#222" text-anchor="middle" textLength="8.64837" lengthAdjust="spacingAndGlyphs"  stroke="#222" stroke-width="0.1">20</text>
<text x="432.6" y="452.1" font-size="7.2" fill="#222" text-anchor="middle" textLength="8.64837" lengthAdjust="spacingAndGlyphs"  stroke="#222" stroke-width="0.1">20</text>
<text x="448.75" y="452.1" font-size="7.2" fill="#222" text-anchor="middle" textLength="8.64837" lengthAdjust="spacingAndGlyphs"  stroke="#222" stroke-width="0.1">25</text>
<text x="468.75" y="452.1" font-size="7.2" fill="#222" text-anchor="middle" textLength="8.64837" lengthAdjust="spacingAndGlyphs"  stroke="#222" stroke-width="0.1">30</text>
<text x="488.75" y="452.1" font-size="7.2" fill="#222" text-anchor="middle" textLength="8.64837" lengthAdjust="spacingAndGlyphs"  stroke="#222" stroke-width="0.1">35</text>
<text x="509.3" y="452.1" font-size="7.2" fill="#222" text-anchor="middle" textLength="8.64837" lengthAdjust="spacingAndGlyphs"  stroke="#222" stroke-width="0.1">40</text>
<text x="453.8" y="465.3" font-size="7.8" fill="#1a1a1a" text-anchor="middle" font-weight="bold" textLength="65" lengthAdjust="spacingAndGlyphs" >Days post-engraftment</text>
<text x="370.4" y="379.4" font-size="7.6" fill="#1a1a1a" text-anchor="middle" font-weight="bold" textLength="61" lengthAdjust="spacingAndGlyphs" transform="rotate(-90 370.4 379.4)" >Probability of survival</text>
<line x1="395.5" y1="321.75" x2="424.5" y2="321.75" stroke="#9c7ca8" stroke-width="0.9" />
<polyline points="428.75,321.75 444.75,321.75 444.75,369.05 464.75,369.05 464.75,440.0" fill="none" stroke="#d6308a" stroke-width="1.5"/>
<polyline points="428.75,321.75 464.75,321.75 464.75,351.3125 480.75,351.3125 480.75,380.875 484.75,380.875 484.75,440.0" fill="none" stroke="#46244f" stroke-width="1.5"/>
<path d="M444.75,321.75 V369.05" stroke="#d6308a" stroke-width="1.5"/>
<circle cx="444.75" cy="369.05" r="3.2" fill="#fff" stroke="#d6308a" stroke-width="1.3"/>
<path d="M444.75,369.05 h2.2" stroke="#d6308a" stroke-width="0.9"/>
<circle cx="464.75" cy="440.0" r="3.2" fill="#fff" stroke="#d6308a" stroke-width="1.3"/>
<path d="M464.75,440.0 h2.2" stroke="#d6308a" stroke-width="0.9"/>
<circle cx="464.75" cy="351.3125" r="3.2" fill="#fff" stroke="#46244f" stroke-width="1.3"/>
<path d="M464.75,351.3125 h2.2" stroke="#46244f" stroke-width="0.9"/>
<circle cx="480.75" cy="380.875" r="3.2" fill="#fff" stroke="#46244f" stroke-width="1.3"/>
<path d="M480.75,380.875 h2.2" stroke="#46244f" stroke-width="0.9"/>
<circle cx="484.75" cy="440.0" r="3.2" fill="#fff" stroke="#46244f" stroke-width="1.3"/>
<path d="M484.75,440.0 h2.2" stroke="#46244f" stroke-width="0.9"/>
<text x="451.3" y="318.9" font-size="7.6" fill="#222" text-anchor="middle" textLength="26" lengthAdjust="spacingAndGlyphs" stroke="#222" stroke-width="0.1"><tspan font-style="italic">P</tspan> = .02</text>
<text x="7" y="484.5" font-size="10.5" fill="#000" text-anchor="start" font-weight="bold" stroke="#000" stroke-width="0.35">G</text>
<rect x="17" y="505.2" width="13.4" height="134.3" fill="#fff" stroke="#2a2a2a" stroke-width="0.9"/>
<text x="26.6" y="572.4" font-size="9.3" fill="#1a1a1a" text-anchor="middle" textLength="112" lengthAdjust="spacingAndGlyphs" transform="rotate(-90 26.6 572.4)"  stroke="#1a1a1a" stroke-width="0.1">T-PLL primary patient model</text>
<text x="43.3" y="537.5" font-size="7.5" fill="#d6308a" text-anchor="middle" textLength="52.5" lengthAdjust="spacingAndGlyphs" transform="rotate(-90 43.3 537.5)"  stroke="#d6308a" stroke-width="0.1">Vehicle Control</text>
<text x="43.3" y="614" font-size="7.5" fill="#6b3a86" text-anchor="middle" textLength="48" lengthAdjust="spacingAndGlyphs" transform="rotate(-90 43.3 614)"  stroke="#6b3a86" stroke-width="0.1">Daratumumab</text>
<text x="62" y="496.9" font-size="7.7" fill="#1a1a1a" text-anchor="middle"  stroke="#1a1a1a" stroke-width="0.1">Wk 4</text>
<text x="93.6" y="496.9" font-size="7.7" fill="#1a1a1a" text-anchor="middle"  stroke="#1a1a1a" stroke-width="0.1">Wk 5</text>
<text x="126.4" y="496.9" font-size="7.7" fill="#1a1a1a" text-anchor="middle"  stroke="#1a1a1a" stroke-width="0.1">Wk 6</text>
<text x="159.2" y="496.9" font-size="7.7" fill="#1a1a1a" text-anchor="middle"  stroke="#1a1a1a" stroke-width="0.1">Wk 7</text>
<text x="191.2" y="496.9" font-size="7.7" fill="#1a1a1a" text-anchor="middle"  stroke="#1a1a1a" stroke-width="0.1">Wk 8</text>
<rect x="47.1" y="501.6" width="165.00" height="72.60" fill="#fdf1f8"/>
<rect x="47.1" y="577.9" width="165.00" height="71.70" fill="#f6f1f9"/>
<rect x="49.6" y="502.7" width="29.9" height="69.8" fill="#151515"/>
<rect x="51.6" y="502.7" width="0.8" height="69.8" fill="#1d1d1d"/><rect x="55.9" y="502.7" width="0.8" height="69.8" fill="#1d1d1d"/><rect x="60.2" y="502.7" width="0.8" height="69.8" fill="#1d1d1d"/><rect x="64.5" y="502.7" width="0.8" height="69.8" fill="#1d1d1d"/><rect x="68.8" y="502.7" width="0.8" height="69.8" fill="#1d1d1d"/><rect x="73.1" y="502.7" width="0.8" height="69.8" fill="#1d1d1d"/><rect x="77.4" y="502.7" width="0.8" height="69.8" fill="#1d1d1d"/>
<rect x="81.2" y="502.7" width="30.0" height="69.8" fill="#151515"/>
<rect x="83.2" y="502.7" width="0.8" height="69.8" fill="#1d1d1d"/><rect x="87.5" y="502.7" width="0.8" height="69.8" fill="#1d1d1d"/><rect x="91.8" y="502.7" width="0.8" height="69.8" fill="#1d1d1d"/><rect x="96.1" y="502.7" width="0.8" height="69.8" fill="#1d1d1d"/><rect x="100.4" y="502.7" width="0.8" height="69.8" fill="#1d1d1d"/><rect x="104.7" y="502.7" width="0.8" height="69.8" fill="#1d1d1d"/><rect x="109.0" y="502.7" width="0.8" height="69.8" fill="#1d1d1d"/>
<rect x="113.2" y="502.7" width="32.10000000000001" height="69.8" fill="#151515"/>
<rect x="115.2" y="502.7" width="0.8" height="69.8" fill="#1d1d1d"/><rect x="119.5" y="502.7" width="0.8" height="69.8" fill="#1d1d1d"/><rect x="123.8" y="502.7" width="0.8" height="69.8" fill="#1d1d1d"/><rect x="128.1" y="502.7" width="0.8" height="69.8" fill="#1d1d1d"/><rect x="132.4" y="502.7" width="0.8" height="69.8" fill="#1d1d1d"/><rect x="136.7" y="502.7" width="0.8" height="69.8" fill="#1d1d1d"/><rect x="141.0" y="502.7" width="0.8" height="69.8" fill="#1d1d1d"/>
<rect x="147.2" y="502.7" width="30.0" height="69.8" fill="#151515"/>
<rect x="149.2" y="502.7" width="0.8" height="69.8" fill="#1d1d1d"/><rect x="153.5" y="502.7" width="0.8" height="69.8" fill="#1d1d1d"/><rect x="157.8" y="502.7" width="0.8" height="69.8" fill="#1d1d1d"/><rect x="162.1" y="502.7" width="0.8" height="69.8" fill="#1d1d1d"/><rect x="166.4" y="502.7" width="0.8" height="69.8" fill="#1d1d1d"/><rect x="170.7" y="502.7" width="0.8" height="69.8" fill="#1d1d1d"/><rect x="175.0" y="502.7" width="0.8" height="69.8" fill="#1d1d1d"/>
<rect x="179.4" y="502.7" width="30.900000000000006" height="69.8" fill="#151515"/>
<rect x="181.4" y="502.7" width="0.8" height="69.8" fill="#1d1d1d"/><rect x="185.7" y="502.7" width="0.8" height="69.8" fill="#1d1d1d"/><rect x="190.0" y="502.7" width="0.8" height="69.8" fill="#1d1d1d"/><rect x="194.3" y="502.7" width="0.8" height="69.8" fill="#1d1d1d"/><rect x="198.6" y="502.7" width="0.8" height="69.8" fill="#1d1d1d"/><rect x="202.9" y="502.7" width="0.8" height="69.8" fill="#1d1d1d"/><rect x="207.2" y="502.7" width="0.8" height="69.8" fill="#1d1d1d"/>
<rect x="49.6" y="579.0" width="29.999999999999993" height="69.6" fill="#151515"/>
<rect x="51.6" y="579.0" width="0.8" height="69.6" fill="#1d1d1d"/><rect x="55.9" y="579.0" width="0.8" height="69.6" fill="#1d1d1d"/><rect x="60.2" y="579.0" width="0.8" height="69.6" fill="#1d1d1d"/><rect x="64.5" y="579.0" width="0.8" height="69.6" fill="#1d1d1d"/><rect x="68.8" y="579.0" width="0.8" height="69.6" fill="#1d1d1d"/><rect x="73.1" y="579.0" width="0.8" height="69.6" fill="#1d1d1d"/><rect x="77.4" y="579.0" width="0.8" height="69.6" fill="#1d1d1d"/>
<rect x="81.6" y="579.0" width="29.60000000000001" height="69.6" fill="#151515"/>
<rect x="83.6" y="579.0" width="0.8" height="69.6" fill="#1d1d1d"/><rect x="87.9" y="579.0" width="0.8" height="69.6" fill="#1d1d1d"/><rect x="92.2" y="579.0" width="0.8" height="69.6" fill="#1d1d1d"/><rect x="96.5" y="579.0" width="0.8" height="69.6" fill="#1d1d1d"/><rect x="100.8" y="579.0" width="0.8" height="69.6" fill="#1d1d1d"/><rect x="105.1" y="579.0" width="0.8" height="69.6" fill="#1d1d1d"/><rect x="109.4" y="579.0" width="0.8" height="69.6" fill="#1d1d1d"/>
<rect x="113.2" y="579.0" width="31.799999999999997" height="69.6" fill="#151515"/>
<rect x="115.2" y="579.0" width="0.8" height="69.6" fill="#1d1d1d"/><rect x="119.5" y="579.0" width="0.8" height="69.6" fill="#1d1d1d"/><rect x="123.8" y="579.0" width="0.8" height="69.6" fill="#1d1d1d"/><rect x="128.1" y="579.0" width="0.8" height="69.6" fill="#1d1d1d"/><rect x="132.4" y="579.0" width="0.8" height="69.6" fill="#1d1d1d"/><rect x="136.7" y="579.0" width="0.8" height="69.6" fill="#1d1d1d"/><rect x="141.0" y="579.0" width="0.8" height="69.6" fill="#1d1d1d"/>
<rect x="147.2" y="579.0" width="29.80000000000001" height="69.6" fill="#151515"/>
<rect x="149.2" y="579.0" width="0.8" height="69.6" fill="#1d1d1d"/><rect x="153.5" y="579.0" width="0.8" height="69.6" fill="#1d1d1d"/><rect x="157.8" y="579.0" width="0.8" height="69.6" fill="#1d1d1d"/><rect x="162.1" y="579.0" width="0.8" height="69.6" fill="#1d1d1d"/><rect x="166.4" y="579.0" width="0.8" height="69.6" fill="#1d1d1d"/><rect x="170.7" y="579.0" width="0.8" height="69.6" fill="#1d1d1d"/><rect x="175.0" y="579.0" width="0.8" height="69.6" fill="#1d1d1d"/>
<rect x="179.8" y="579.0" width="30.5" height="69.6" fill="#151515"/>
<rect x="181.8" y="579.0" width="0.8" height="69.6" fill="#1d1d1d"/><rect x="186.1" y="579.0" width="0.8" height="69.6" fill="#1d1d1d"/><rect x="190.4" y="579.0" width="0.8" height="69.6" fill="#1d1d1d"/><rect x="194.7" y="579.0" width="0.8" height="69.6" fill="#1d1d1d"/><rect x="199.0" y="579.0" width="0.8" height="69.6" fill="#1d1d1d"/><rect x="203.3" y="579.0" width="0.8" height="69.6" fill="#1d1d1d"/><rect x="207.6" y="579.0" width="0.8" height="69.6" fill="#1d1d1d"/>
<path d="M55.89,563.38 Q53.43,570.63 51.22,571.63" stroke="#c2c2c2" stroke-width="2.6" fill="none" stroke-linecap="round"/><path d="M60.81,566.55 L59.58,572.90" stroke="#c8c8c8" stroke-width="2.2" fill="none" stroke-linecap="round"/><path d="M73.11,563.38 Q75.57,570.63 77.78,571.63" stroke="#c2c2c2" stroke-width="2.6" fill="none" stroke-linecap="round"/><path d="M68.19,566.55 L69.42,572.90" stroke="#c8c8c8" stroke-width="2.2" fill="none" stroke-linecap="round"/>
<path d="M64.50,507.50 C65.24,507.50 66.14,507.73 66.71,508.26 C67.29,508.79 67.53,509.48 67.94,510.68 C68.35,511.87 68.62,513.85 69.17,515.44 C69.73,517.02 70.61,518.67 71.27,520.20 C71.92,521.73 72.60,522.53 73.11,524.64 C73.62,526.76 73.99,529.94 74.34,532.90 C74.69,535.86 74.89,539.25 75.20,542.42 C75.51,545.60 75.92,549.30 76.19,551.95 C76.45,554.60 76.80,556.18 76.80,558.30 C76.80,560.42 76.80,562.96 76.19,564.65 C75.57,566.34 74.44,567.56 73.11,568.46 C71.78,569.36 69.62,569.73 68.19,570.05 C66.75,570.37 65.73,570.37 64.50,570.37 C63.27,570.37 62.25,570.37 60.81,570.05 C59.38,569.73 57.22,569.36 55.89,568.46 C54.56,567.56 53.43,566.34 52.81,564.65 C52.20,562.96 52.20,560.42 52.20,558.30 C52.20,556.18 52.55,554.60 52.81,551.95 C53.08,549.30 53.49,545.60 53.80,542.42 C54.11,539.25 54.31,535.86 54.66,532.90 C55.01,529.94 55.38,526.76 55.89,524.64 C56.40,522.53 57.08,521.73 57.73,520.20 C58.39,518.67 59.27,517.02 59.83,515.44 C60.38,513.85 60.65,511.87 61.06,510.68 C61.47,509.48 61.71,508.79 62.29,508.26 C62.86,507.73 63.76,507.50 64.50,507.50 Z" fill="url(#mbody)"/>
<ellipse cx="64.1" cy="525.1" rx="2.3" ry="2.7" fill="#9a9a9a" fill-opacity="0.1"/><ellipse cx="65.2" cy="559.2" rx="3.1" ry="4.8" fill="#9a9a9a" fill-opacity="0.1"/><ellipse cx="71.2" cy="550.3" rx="1.5" ry="3.6" fill="#9a9a9a" fill-opacity="0.1"/><ellipse cx="57.3" cy="528.5" rx="1.9" ry="3.8" fill="#9a9a9a" fill-opacity="0.1"/><ellipse cx="63.9" cy="550.5" rx="3.2" ry="4.6" fill="#9a9a9a" fill-opacity="0.1"/><ellipse cx="70.4" cy="528.4" rx="2.6" ry="3.9" fill="#9a9a9a" fill-opacity="0.1"/><ellipse cx="67.4" cy="524.2" rx="3.1" ry="3.8" fill="#9a9a9a" fill-opacity="0.1"/>
<ellipse cx="62.5" cy="530" rx="7.5" ry="10.5" fill="#d9ccf2" fill-opacity="0.55"/>
<path d="M59,524 C61,521 64,522 64.5,526 C65,530 64.5,535 62.5,538 C60.5,540 58,538 58,534 C57.8,531 57.5,527 59,524 Z" fill="#5224a8"/>
<ellipse cx="56.8" cy="524.5" rx="2.0" ry="2.0" fill="url(#s1)"/>
<ellipse cx="66.5" cy="522.8" rx="1.8" ry="1.8" fill="url(#s1)"/>
<ellipse cx="68" cy="530.5" rx="1.5" ry="1.6" fill="url(#s1)"/>
<ellipse cx="54" cy="559.6" rx="4.6" ry="6.0" fill="url(#s1)"/>
<ellipse cx="74.2" cy="558.6" rx="4.6" ry="5.6" fill="url(#s2)"/>
<path d="M87.38,563.18 Q84.86,570.65 82.59,571.65" stroke="#c2c2c2" stroke-width="2.6" fill="none" stroke-linecap="round"/><path d="M92.42,566.44 L91.16,572.96" stroke="#c8c8c8" stroke-width="2.2" fill="none" stroke-linecap="round"/><path d="M105.02,563.18 Q107.54,570.65 109.81,571.65" stroke="#c2c2c2" stroke-width="2.6" fill="none" stroke-linecap="round"/><path d="M99.98,566.44 L101.24,572.96" stroke="#c8c8c8" stroke-width="2.2" fill="none" stroke-linecap="round"/>
<path d="M96.20,505.80 C96.96,505.80 97.88,506.04 98.47,506.58 C99.06,507.13 99.31,507.83 99.73,509.06 C100.15,510.29 100.42,512.32 100.99,513.95 C101.56,515.58 102.46,517.26 103.13,518.84 C103.80,520.42 104.50,521.23 105.02,523.40 C105.54,525.58 105.92,528.84 106.28,531.88 C106.64,534.92 106.85,538.40 107.16,541.66 C107.48,544.92 107.90,548.72 108.17,551.44 C108.44,554.16 108.80,555.79 108.80,557.96 C108.80,560.13 108.80,562.74 108.17,564.48 C107.54,566.22 106.38,567.47 105.02,568.39 C103.66,569.32 101.45,569.70 99.98,570.02 C98.51,570.35 97.46,570.35 96.20,570.35 C94.94,570.35 93.89,570.35 92.42,570.02 C90.95,569.70 88.75,569.32 87.38,568.39 C86.02,567.47 84.86,566.22 84.23,564.48 C83.60,562.74 83.60,560.13 83.60,557.96 C83.60,555.79 83.96,554.16 84.23,551.44 C84.50,548.72 84.92,544.92 85.24,541.66 C85.55,538.40 85.76,534.92 86.12,531.88 C86.48,528.84 86.86,525.58 87.38,523.40 C87.91,521.23 88.60,520.42 89.27,518.84 C89.94,517.26 90.84,515.58 91.41,513.95 C91.98,512.32 92.25,510.29 92.67,509.06 C93.09,507.83 93.34,507.13 93.93,506.58 C94.52,506.04 95.44,505.80 96.20,505.80 Z" fill="url(#mbody)"/>
<ellipse cx="97.3" cy="524.2" rx="2.9" ry="4.6" fill="#9a9a9a" fill-opacity="0.1"/><ellipse cx="92.1" cy="547.2" rx="1.8" ry="3.8" fill="#9a9a9a" fill-opacity="0.1"/><ellipse cx="92.6" cy="534.8" rx="3.3" ry="2.3" fill="#9a9a9a" fill-opacity="0.1"/><ellipse cx="101.5" cy="553.8" rx="1.8" ry="3.3" fill="#9a9a9a" fill-opacity="0.1"/><ellipse cx="95.1" cy="523.0" rx="2.2" ry="2.4" fill="#9a9a9a" fill-opacity="0.1"/><ellipse cx="90.9" cy="541.4" rx="2.3" ry="2.5" fill="#9a9a9a" fill-opacity="0.1"/><ellipse cx="100.6" cy="545.8" rx="3.4" ry="4.4" fill="#9a9a9a" fill-opacity="0.1"/>
<ellipse cx="96" cy="526" rx="9" ry="10.5" fill="#d9ccf2" fill-opacity="0.6"/>
<path d="M90.5,520 C92,517 97,516 99.5,519 C101.5,522 100.5,528 99,532 C97.5,536 93.5,537 92,534 C90,530 89.5,524 90.5,520 Z" fill="#5224a8"/>
<ellipse cx="101.5" cy="522.5" rx="2.2" ry="2.0" fill="url(#s1)"/>
<ellipse cx="102" cy="530.5" rx="1.6" ry="1.6" fill="url(#s1)"/>
<ellipse cx="85.8" cy="555.2" rx="4.6" ry="5.6" fill="url(#s2)"/>
<ellipse cx="105.2" cy="557.2" rx="5.0" ry="5.6" fill="url(#s2)"/>
<path d="M121.54,563.10 Q118.78,570.66 116.30,571.66" stroke="#c2c2c2" stroke-width="2.6" fill="none" stroke-linecap="round"/><path d="M127.06,566.39 L125.68,572.97" stroke="#c8c8c8" stroke-width="2.2" fill="none" stroke-linecap="round"/><path d="M140.86,563.10 Q143.62,570.66 146.10,571.66" stroke="#c2c2c2" stroke-width="2.6" fill="none" stroke-linecap="round"/><path d="M135.34,566.39 L136.72,572.97" stroke="#c8c8c8" stroke-width="2.2" fill="none" stroke-linecap="round"/>
<path d="M131.20,505.20 C132.03,505.20 133.04,505.44 133.68,505.99 C134.33,506.54 134.60,507.25 135.06,508.49 C135.52,509.73 135.82,511.78 136.44,513.42 C137.06,515.07 138.05,516.77 138.79,518.36 C139.53,519.95 140.28,520.77 140.86,522.97 C141.43,525.16 141.85,528.45 142.24,531.52 C142.63,534.59 142.86,538.10 143.21,541.39 C143.55,544.68 144.01,548.52 144.31,551.26 C144.61,554.00 145.00,555.65 145.00,557.84 C145.00,560.03 145.00,562.67 144.31,564.42 C143.62,566.17 142.35,567.44 140.86,568.37 C139.36,569.30 136.95,569.68 135.34,570.01 C133.73,570.34 132.58,570.34 131.20,570.34 C129.82,570.34 128.67,570.34 127.06,570.01 C125.45,569.68 123.03,569.30 121.54,568.37 C120.04,567.44 118.78,566.17 118.09,564.42 C117.40,562.67 117.40,560.03 117.40,557.84 C117.40,555.65 117.79,554.00 118.09,551.26 C118.39,548.52 118.85,544.68 119.19,541.39 C119.54,538.10 119.77,534.59 120.16,531.52 C120.55,528.45 120.96,525.16 121.54,522.97 C122.11,520.77 122.87,519.95 123.61,518.36 C124.35,516.77 125.33,515.07 125.96,513.42 C126.58,511.78 126.88,509.73 127.34,508.49 C127.80,507.25 128.07,506.54 128.72,505.99 C129.36,505.44 130.37,505.20 131.20,505.20 Z" fill="url(#mbody)"/>
<ellipse cx="136.7" cy="541.3" rx="2.6" ry="2.5" fill="#9a9a9a" fill-opacity="0.1"/><ellipse cx="133.8" cy="539.1" rx="2.1" ry="4.5" fill="#9a9a9a" fill-opacity="0.1"/><ellipse cx="123.8" cy="518.4" rx="2.9" ry="3.1" fill="#9a9a9a" fill-opacity="0.1"/><ellipse cx="136.3" cy="539.8" rx="3.4" ry="2.0" fill="#9a9a9a" fill-opacity="0.1"/><ellipse cx="139.0" cy="559.0" rx="3.2" ry="2.2" fill="#9a9a9a" fill-opacity="0.1"/><ellipse cx="134.9" cy="543.8" rx="3.1" ry="3.0" fill="#9a9a9a" fill-opacity="0.1"/><ellipse cx="127.5" cy="528.3" rx="3.4" ry="3.0" fill="#9a9a9a" fill-opacity="0.1"/>
<ellipse cx="131" cy="527" rx="10.5" ry="12.5" fill="#d9ccf2" fill-opacity="0.5"/>
<path d="M122.5,521 C123.5,516 129,514.5 134,515.5 C139,516.5 141,521 140,527 C139.5,532 137,537 132,538 C127,538.5 123.5,535 122.8,530 C122.3,527 122.2,524 122.5,521 Z" fill="#4d25ad"/>
<path d="M125,520 C127,518 131,518 132,521 C132.5,524 130,527 127,526.5 C125,525.5 124.5,522 125,520 Z" fill="#2e3ccc"/>
<path d="M132.5,522 C135,520 138.5,521 138.5,525 C138.5,529 136,531 133.5,530 C132,528 131.5,524 132.5,522 Z" fill="#2e3ccc"/>
<path d="M127,529 C129,528 131.5,529 131.5,532 C131,535 128,535.5 126.5,533.5 C126,532 126,530 127,529 Z" fill="#2e3ccc"/>
<ellipse cx="128.3" cy="522.5" rx="1.8" ry="1.8" fill="url(#s2)"/>
<ellipse cx="135.5" cy="526" rx="1.8" ry="2.0" fill="url(#s2)"/>
<ellipse cx="119.3" cy="558.2" rx="5.0" ry="5.6" fill="url(#s3)"/>
<ellipse cx="139.5" cy="559" rx="5.2" ry="5.8" fill="url(#s3)"/>
<path d="M153.68,563.20 Q150.96,570.65 148.51,571.65" stroke="#c2c2c2" stroke-width="2.6" fill="none" stroke-linecap="round"/><path d="M159.12,566.45 L157.76,572.95" stroke="#c8c8c8" stroke-width="2.2" fill="none" stroke-linecap="round"/><path d="M172.72,563.20 Q175.44,570.65 177.89,571.65" stroke="#c2c2c2" stroke-width="2.6" fill="none" stroke-linecap="round"/><path d="M167.28,566.45 L168.64,572.95" stroke="#c8c8c8" stroke-width="2.2" fill="none" stroke-linecap="round"/>
<path d="M163.20,506.00 C164.02,506.00 165.01,506.24 165.65,506.78 C166.28,507.32 166.55,508.03 167.01,509.25 C167.46,510.47 167.76,512.50 168.37,514.12 C168.98,515.75 169.95,517.43 170.68,519.00 C171.41,520.57 172.15,521.38 172.72,523.55 C173.29,525.72 173.69,528.97 174.08,532.00 C174.47,535.03 174.69,538.50 175.03,541.75 C175.37,545.00 175.83,548.79 176.12,551.50 C176.41,554.21 176.80,555.83 176.80,558.00 C176.80,560.17 176.80,562.77 176.12,564.50 C175.44,566.23 174.19,567.48 172.72,568.40 C171.25,569.32 168.87,569.70 167.28,570.02 C165.69,570.35 164.56,570.35 163.20,570.35 C161.84,570.35 160.71,570.35 159.12,570.02 C157.53,569.70 155.15,569.32 153.68,568.40 C152.21,567.48 150.96,566.23 150.28,564.50 C149.60,562.77 149.60,560.17 149.60,558.00 C149.60,555.83 149.99,554.21 150.28,551.50 C150.57,548.79 151.03,545.00 151.37,541.75 C151.71,538.50 151.93,535.03 152.32,532.00 C152.71,528.97 153.11,525.72 153.68,523.55 C154.25,521.38 154.99,520.57 155.72,519.00 C156.45,517.43 157.42,515.75 158.03,514.12 C158.64,512.50 158.94,510.47 159.39,509.25 C159.85,508.03 160.12,507.32 160.75,506.78 C161.39,506.24 162.38,506.00 163.20,506.00 Z" fill="url(#mbody)"/>
<ellipse cx="155.3" cy="540.4" rx="2.6" ry="3.9" fill="#9a9a9a" fill-opacity="0.1"/><ellipse cx="157.0" cy="545.3" rx="1.5" ry="4.4" fill="#9a9a9a" fill-opacity="0.1"/><ellipse cx="163.5" cy="524.8" rx="3.2" ry="3.5" fill="#9a9a9a" fill-opacity="0.1"/><ellipse cx="155.0" cy="528.2" rx="2.1" ry="4.3" fill="#9a9a9a" fill-opacity="0.1"/><ellipse cx="169.5" cy="540.8" rx="3.2" ry="4.8" fill="#9a9a9a" fill-opacity="0.1"/><ellipse cx="166.1" cy="552.9" rx="3.3" ry="3.8" fill="#9a9a9a" fill-opacity="0.1"/><ellipse cx="168.2" cy="542.7" rx="2.1" ry="4.3" fill="#9a9a9a" fill-opacity="0.1"/>
<ellipse cx="163" cy="526" rx="10" ry="11.5" fill="#d9ccf2" fill-opacity="0.5"/>
<path d="M155,520 C156,515 162,514 167,515.5 C171.5,517 172,522 170.5,527 C169,531 166,535 161,535.5 C157,535 155,531 154.8,527 C154.6,524.5 154.7,522 155,520 Z" fill="#4a2bb0"/>
<path d="M157,519 C159,516.5 164,516.5 167,518.5 C169.5,520.5 169,525 166.5,528 C164,531 159.5,531 157.5,528 C156,525.5 156,521.5 157,519 Z" fill="#2f48d4"/>
<path d="M158.5,519.5 C160,518 162.5,518.5 163,520.5 C163,523 160.5,524 159,523 C158,522 158,520.5 158.5,519.5 Z" fill="#22b8d0"/>
<path d="M164,521 C166,520 168,521.5 167.5,524 C166.5,526 164,526 163.5,524 Z" fill="#22b8d0"/>
<ellipse cx="161.5" cy="529" rx="1.6" ry="1.4" fill="#22b8d0"/>
<ellipse cx="152" cy="556" rx="4.5" ry="5.0" fill="url(#s4)"/>
<ellipse cx="172.5" cy="557" rx="4.9" ry="5.2" fill="url(#s4)"/>
<path d="M185.66,563.20 Q182.82,570.65 180.26,571.65" stroke="#c2c2c2" stroke-width="2.6" fill="none" stroke-linecap="round"/><path d="M191.34,566.45 L189.92,572.95" stroke="#c8c8c8" stroke-width="2.2" fill="none" stroke-linecap="round"/><path d="M205.54,563.20 Q208.38,570.65 210.94,571.65" stroke="#c2c2c2" stroke-width="2.6" fill="none" stroke-linecap="round"/><path d="M199.86,566.45 L201.28,572.95" stroke="#c8c8c8" stroke-width="2.2" fill="none" stroke-linecap="round"/>
<path d="M195.60,506.00 C196.45,506.00 197.49,506.24 198.16,506.78 C198.82,507.32 199.10,508.03 199.58,509.25 C200.05,510.47 200.36,512.50 201.00,514.12 C201.63,515.75 202.65,517.43 203.41,519.00 C204.17,520.57 204.95,521.38 205.54,523.55 C206.13,525.72 206.56,528.97 206.96,532.00 C207.36,535.03 207.60,538.50 207.95,541.75 C208.31,545.00 208.78,548.79 209.09,551.50 C209.40,554.21 209.80,555.83 209.80,558.00 C209.80,560.17 209.80,562.77 209.09,564.50 C208.38,566.23 207.08,567.48 205.54,568.40 C204.00,569.32 201.52,569.70 199.86,570.02 C198.20,570.35 197.02,570.35 195.60,570.35 C194.18,570.35 193.00,570.35 191.34,570.02 C189.68,569.70 187.20,569.32 185.66,568.40 C184.12,567.48 182.82,566.23 182.11,564.50 C181.40,562.77 181.40,560.17 181.40,558.00 C181.40,555.83 181.80,554.21 182.11,551.50 C182.42,548.79 182.89,545.00 183.25,541.75 C183.60,538.50 183.84,535.03 184.24,532.00 C184.64,528.97 185.07,525.72 185.66,523.55 C186.25,521.38 187.03,520.57 187.79,519.00 C188.55,517.43 189.56,515.75 190.20,514.12 C190.84,512.50 191.15,510.47 191.62,509.25 C192.10,508.03 192.38,507.32 193.04,506.78 C193.71,506.24 194.75,506.00 195.60,506.00 Z" fill="url(#mbody)"/>
<ellipse cx="191.2" cy="533.0" rx="2.8" ry="4.9" fill="#9a9a9a" fill-opacity="0.1"/><ellipse cx="191.0" cy="556.8" rx="3.3" ry="3.2" fill="#9a9a9a" fill-opacity="0.1"/><ellipse cx="190.3" cy="549.5" rx="3.1" ry="4.9" fill="#9a9a9a" fill-opacity="0.1"/><ellipse cx="192.1" cy="535.2" rx="2.1" ry="2.5" fill="#9a9a9a" fill-opacity="0.1"/><ellipse cx="194.0" cy="531.3" rx="1.5" ry="4.6" fill="#9a9a9a" fill-opacity="0.1"/><ellipse cx="203.8" cy="544.4" rx="3.1" ry="2.6" fill="#9a9a9a" fill-opacity="0.1"/><ellipse cx="203.6" cy="553.5" rx="1.6" ry="4.1" fill="#9a9a9a" fill-opacity="0.1"/>
<ellipse cx="195.5" cy="527" rx="11" ry="12.5" fill="#d9ccf2" fill-opacity="0.5"/>
<path d="M186,520 C187.5,514.5 195,513 201,514.5 C206,516 207,521 205.5,527 C204,532 200,537.5 194.5,538 C189.5,538 186.5,534 185.8,529 C185.5,526 185.6,523 186,520 Z" fill="#3a36c4"/>
<path d="M188,519.5 C190,516 196,515.5 200.5,517.5 C204,519.5 204,524.5 202,529 C200,533 195.5,535 191.5,533 C188.5,531 187.3,524 188,519.5 Z" fill="#22b4d0"/>
<path d="M190,521 C192,519 196,519 197.5,521.5 C198.5,524.5 196.5,528 193.5,528.5 C191,528.5 189.5,524 190,521 Z" fill="#3ec23c"/>
<path d="M198.5,523 C200.5,522 202.5,523.5 202,526.5 C201,529 198.5,529 198,527 Z" fill="#3ec23c"/>
<ellipse cx="199.5" cy="519.5" rx="2.2" ry="1.6" fill="#e8d824"/>
<ellipse cx="199.5" cy="519.5" rx="1.1" ry="0.9" fill="#ec3a18"/>
<ellipse cx="193.5" cy="531" rx="2" ry="1.5" fill="#3a36c4"/>
<ellipse cx="184.3" cy="558" rx="5.0" ry="5.5" fill="url(#s4)"/>
<ellipse cx="205" cy="560" rx="5.8" ry="6.2" fill="url(#s4)"/>
<path d="M58.28,637.56 Q55.72,644.62 53.36,645.62" stroke="#c2c2c2" stroke-width="2.6" fill="none" stroke-linecap="round"/><path d="M63.37,640.66 L62.06,646.86" stroke="#c8c8c8" stroke-width="2.2" fill="none" stroke-linecap="round"/><path d="M76.20,637.56 Q78.76,644.62 81.00,645.62" stroke="#c2c2c2" stroke-width="2.6" fill="none" stroke-linecap="round"/><path d="M71.05,640.66 L72.30,646.86" stroke="#c8c8c8" stroke-width="2.2" fill="none" stroke-linecap="round"/>
<path d="M67.82,583.00 C68.59,583.00 69.52,583.23 70.12,583.74 C70.71,584.26 70.96,584.93 71.37,586.10 C71.79,587.27 72.04,589.20 72.60,590.75 C73.16,592.30 74.06,593.90 74.73,595.40 C75.40,596.90 76.10,597.67 76.61,599.74 C77.12,601.81 77.47,604.91 77.80,607.80 C78.14,610.69 78.32,614.00 78.60,617.10 C78.89,620.20 79.28,623.82 79.53,626.40 C79.78,628.98 80.13,630.53 80.11,632.60 C80.09,634.67 80.06,637.15 79.40,638.80 C78.75,640.45 77.56,641.64 76.17,642.52 C74.77,643.40 72.53,643.76 71.03,644.07 C69.53,644.38 68.47,644.38 67.19,644.38 C65.91,644.38 64.84,644.38 63.35,644.07 C61.86,643.76 59.62,643.40 58.25,642.52 C56.87,641.64 55.71,640.45 55.08,638.80 C54.46,637.15 54.49,634.67 54.51,632.60 C54.53,630.53 54.91,628.98 55.21,626.40 C55.52,623.82 55.98,620.20 56.33,617.10 C56.68,614.00 56.93,610.69 57.32,607.80 C57.72,604.91 58.13,601.81 58.69,599.74 C59.24,597.67 59.95,596.90 60.65,595.40 C61.35,593.90 62.28,592.30 62.88,590.75 C63.47,589.20 63.77,587.27 64.20,586.10 C64.64,584.93 64.91,584.26 65.51,583.74 C66.11,583.23 67.05,583.00 67.82,583.00 Z" fill="url(#mbody)"/>
<ellipse cx="61.1" cy="610.5" rx="2.6" ry="2.6" fill="#9a9a9a" fill-opacity="0.1"/><ellipse cx="66.6" cy="628.2" rx="3.1" ry="4.2" fill="#9a9a9a" fill-opacity="0.1"/><ellipse cx="66.3" cy="621.0" rx="2.8" ry="4.2" fill="#9a9a9a" fill-opacity="0.1"/><ellipse cx="67.9" cy="622.8" rx="3.3" ry="2.6" fill="#9a9a9a" fill-opacity="0.1"/><ellipse cx="71.7" cy="601.5" rx="2.2" ry="5.0" fill="#9a9a9a" fill-opacity="0.1"/><ellipse cx="66.8" cy="628.1" rx="2.3" ry="4.2" fill="#9a9a9a" fill-opacity="0.1"/><ellipse cx="61.6" cy="614.2" rx="2.0" ry="4.3" fill="#9a9a9a" fill-opacity="0.1"/>
<ellipse cx="55" cy="630" rx="1.4" ry="1.8" fill="url(#s1)"/>
<path d="M89.50,637.80 Q86.90,644.60 84.56,645.60" stroke="#c2c2c2" stroke-width="2.6" fill="none" stroke-linecap="round"/><path d="M94.70,640.80 L93.40,646.80" stroke="#c8c8c8" stroke-width="2.2" fill="none" stroke-linecap="round"/><path d="M107.70,637.80 Q110.30,644.60 112.64,645.60" stroke="#c2c2c2" stroke-width="2.6" fill="none" stroke-linecap="round"/><path d="M102.50,640.80 L103.80,646.80" stroke="#c8c8c8" stroke-width="2.2" fill="none" stroke-linecap="round"/>
<path d="M98.60,585.00 C99.38,585.00 100.33,585.22 100.94,585.72 C101.55,586.22 101.81,586.87 102.24,588.00 C102.67,589.13 102.95,591.00 103.54,592.50 C104.12,594.00 105.06,595.55 105.75,597.00 C106.44,598.45 107.16,599.20 107.70,601.20 C108.24,603.20 108.63,606.20 109.00,609.00 C109.37,611.80 109.58,615.00 109.91,618.00 C110.23,621.00 110.67,624.50 110.95,627.00 C111.23,629.50 111.60,631.00 111.60,633.00 C111.60,635.00 111.60,637.40 110.95,639.00 C110.30,640.60 109.11,641.75 107.70,642.60 C106.29,643.45 104.02,643.80 102.50,644.10 C100.98,644.40 99.90,644.40 98.60,644.40 C97.30,644.40 96.22,644.40 94.70,644.10 C93.18,643.80 90.91,643.45 89.50,642.60 C88.09,641.75 86.90,640.60 86.25,639.00 C85.60,637.40 85.60,635.00 85.60,633.00 C85.60,631.00 85.97,629.50 86.25,627.00 C86.53,624.50 86.96,621.00 87.29,618.00 C87.61,615.00 87.83,611.80 88.20,609.00 C88.57,606.20 88.96,603.20 89.50,601.20 C90.04,599.20 90.76,598.45 91.45,597.00 C92.14,595.55 93.07,594.00 93.66,592.50 C94.25,591.00 94.53,589.13 94.96,588.00 C95.39,586.87 95.65,586.22 96.26,585.72 C96.87,585.22 97.82,585.00 98.60,585.00 Z" fill="url(#mbody)"/>
<ellipse cx="101.0" cy="636.3" rx="2.7" ry="2.8" fill="#9a9a9a" fill-opacity="0.1"/><ellipse cx="103.1" cy="627.3" rx="2.8" ry="3.6" fill="#9a9a9a" fill-opacity="0.1"/><ellipse cx="92.0" cy="610.9" rx="3.4" ry="3.7" fill="#9a9a9a" fill-opacity="0.1"/><ellipse cx="91.1" cy="607.9" rx="1.7" ry="2.1" fill="#9a9a9a" fill-opacity="0.1"/><ellipse cx="95.6" cy="635.2" rx="2.0" ry="2.9" fill="#9a9a9a" fill-opacity="0.1"/><ellipse cx="102.6" cy="610.4" rx="1.6" ry="3.0" fill="#9a9a9a" fill-opacity="0.1"/><ellipse cx="103.9" cy="619.6" rx="2.5" ry="2.5" fill="#9a9a9a" fill-opacity="0.1"/>
<ellipse cx="99" cy="612" rx="2.6" ry="1.6" fill="#b070d0" fill-opacity="0.6"/>
<path d="M120.48,637.68 Q117.76,644.61 115.31,645.61" stroke="#c2c2c2" stroke-width="2.6" fill="none" stroke-linecap="round"/><path d="M125.92,640.73 L124.56,646.83" stroke="#c8c8c8" stroke-width="2.2" fill="none" stroke-linecap="round"/><path d="M139.52,637.68 Q142.24,644.61 144.69,645.61" stroke="#c2c2c2" stroke-width="2.6" fill="none" stroke-linecap="round"/><path d="M134.08,640.73 L135.44,646.83" stroke="#c8c8c8" stroke-width="2.2" fill="none" stroke-linecap="round"/>
<path d="M130.00,584.00 C130.82,584.00 131.81,584.22 132.45,584.73 C133.08,585.24 133.35,585.90 133.81,587.05 C134.26,588.20 134.56,590.10 135.17,591.62 C135.78,593.15 136.75,594.73 137.48,596.20 C138.21,597.67 138.95,598.44 139.52,600.47 C140.09,602.50 140.49,605.55 140.88,608.40 C141.27,611.25 141.49,614.50 141.83,617.55 C142.17,620.60 142.63,624.16 142.92,626.70 C143.21,629.24 143.60,630.77 143.60,632.80 C143.60,634.83 143.60,637.27 142.92,638.90 C142.24,640.53 140.99,641.70 139.52,642.56 C138.05,643.42 135.67,643.78 134.08,644.09 C132.49,644.39 131.36,644.39 130.00,644.39 C128.64,644.39 127.51,644.39 125.92,644.09 C124.33,643.78 121.95,643.42 120.48,642.56 C119.01,641.70 117.76,640.53 117.08,638.90 C116.40,637.27 116.40,634.83 116.40,632.80 C116.40,630.77 116.79,629.24 117.08,626.70 C117.37,624.16 117.83,620.60 118.17,617.55 C118.51,614.50 118.73,611.25 119.12,608.40 C119.51,605.55 119.91,602.50 120.48,600.47 C121.05,598.44 121.79,597.67 122.52,596.20 C123.25,594.73 124.22,593.15 124.83,591.62 C125.44,590.10 125.74,588.20 126.19,587.05 C126.65,585.90 126.92,585.24 127.55,584.73 C128.19,584.22 129.18,584.00 130.00,584.00 Z" fill="url(#mbody)"/>
<ellipse cx="124.7" cy="608.9" rx="2.7" ry="4.6" fill="#9a9a9a" fill-opacity="0.1"/><ellipse cx="122.6" cy="612.7" rx="2.2" ry="3.6" fill="#9a9a9a" fill-opacity="0.1"/><ellipse cx="135.5" cy="628.5" rx="2.9" ry="2.1" fill="#9a9a9a" fill-opacity="0.1"/><ellipse cx="136.4" cy="637.1" rx="1.8" ry="2.4" fill="#9a9a9a" fill-opacity="0.1"/><ellipse cx="137.7" cy="598.1" rx="2.0" ry="2.8" fill="#9a9a9a" fill-opacity="0.1"/><ellipse cx="133.1" cy="597.4" rx="3.2" ry="2.1" fill="#9a9a9a" fill-opacity="0.1"/><ellipse cx="130.7" cy="612.1" rx="2.3" ry="4.4" fill="#9a9a9a" fill-opacity="0.1"/>
<path d="M129,601 C130.5,600 131.5,602 131,606 C130.5,610 129,611 128.3,609 C128,606 128,603 129,601 Z" fill="#5a20b0"/>
<ellipse cx="128.5" cy="613" rx="1.1" ry="2.2" fill="#5a20b0"/>
<ellipse cx="117.2" cy="632" rx="3.6" ry="3.8" fill="url(#s1)"/>
<ellipse cx="138" cy="633" rx="2.6" ry="3.0" fill="url(#s1)"/>
<path d="M154.90,637.66 Q152.30,644.61 149.96,645.61" stroke="#c2c2c2" stroke-width="2.6" fill="none" stroke-linecap="round"/><path d="M160.10,640.72 L158.80,646.84" stroke="#c8c8c8" stroke-width="2.2" fill="none" stroke-linecap="round"/><path d="M173.10,637.66 Q175.70,644.61 178.04,645.61" stroke="#c2c2c2" stroke-width="2.6" fill="none" stroke-linecap="round"/><path d="M167.90,640.72 L169.20,646.84" stroke="#c8c8c8" stroke-width="2.2" fill="none" stroke-linecap="round"/>
<path d="M164.00,583.80 C164.78,583.80 165.73,584.02 166.34,584.53 C166.95,585.04 167.21,585.71 167.64,586.86 C168.07,588.01 168.35,589.92 168.94,591.45 C169.53,592.98 170.46,594.56 171.15,596.04 C171.84,597.52 172.56,598.28 173.10,600.32 C173.64,602.36 174.03,605.42 174.40,608.28 C174.77,611.14 174.99,614.40 175.31,617.46 C175.63,620.52 176.07,624.09 176.35,626.64 C176.63,629.19 177.00,630.72 177.00,632.76 C177.00,634.80 177.00,637.25 176.35,638.88 C175.70,640.51 174.51,641.69 173.10,642.55 C171.69,643.42 169.42,643.78 167.90,644.08 C166.38,644.39 165.30,644.39 164.00,644.39 C162.70,644.39 161.62,644.39 160.10,644.08 C158.58,643.78 156.31,643.42 154.90,642.55 C153.49,641.69 152.30,640.51 151.65,638.88 C151.00,637.25 151.00,634.80 151.00,632.76 C151.00,630.72 151.37,629.19 151.65,626.64 C151.93,624.09 152.37,620.52 152.69,617.46 C153.01,614.40 153.23,611.14 153.60,608.28 C153.97,605.42 154.36,602.36 154.90,600.32 C155.44,598.28 156.16,597.52 156.85,596.04 C157.54,594.56 158.47,592.98 159.06,591.45 C159.65,589.92 159.93,588.01 160.36,586.86 C160.79,585.71 161.05,585.04 161.66,584.53 C162.27,584.02 163.22,583.80 164.00,583.80 Z" fill="url(#mbody)"/>
<ellipse cx="163.7" cy="600.9" rx="1.6" ry="2.3" fill="#9a9a9a" fill-opacity="0.1"/><ellipse cx="159.6" cy="627.1" rx="3.5" ry="2.6" fill="#9a9a9a" fill-opacity="0.1"/><ellipse cx="171.3" cy="627.5" rx="2.8" ry="2.1" fill="#9a9a9a" fill-opacity="0.1"/><ellipse cx="159.7" cy="626.6" rx="2.6" ry="3.8" fill="#9a9a9a" fill-opacity="0.1"/><ellipse cx="167.2" cy="616.4" rx="2.1" ry="4.9" fill="#9a9a9a" fill-opacity="0.1"/><ellipse cx="166.5" cy="622.0" rx="2.0" ry="4.7" fill="#9a9a9a" fill-opacity="0.1"/><ellipse cx="165.9" cy="603.9" rx="3.1" ry="3.0" fill="#9a9a9a" fill-opacity="0.1"/>
<ellipse cx="162.8" cy="609.4" rx="1.4" ry="1.8" fill="url(#s1)"/>
<ellipse cx="152.1" cy="629.3" rx="3.2" ry="3.6" fill="url(#s2)"/>
<ellipse cx="173.4" cy="632.2" rx="3.2" ry="3.4" fill="url(#s2)"/>
<path d="M188.06,637.66 Q185.42,644.61 183.04,645.61" stroke="#c2c2c2" stroke-width="2.6" fill="none" stroke-linecap="round"/><path d="M193.34,640.72 L192.02,646.84" stroke="#c8c8c8" stroke-width="2.2" fill="none" stroke-linecap="round"/><path d="M206.54,637.66 Q209.18,644.61 211.56,645.61" stroke="#c2c2c2" stroke-width="2.6" fill="none" stroke-linecap="round"/><path d="M201.26,640.72 L202.58,646.84" stroke="#c8c8c8" stroke-width="2.2" fill="none" stroke-linecap="round"/>
<path d="M197.30,583.80 C198.09,583.80 199.06,584.02 199.68,584.53 C200.29,585.04 200.56,585.71 201.00,586.86 C201.44,588.01 201.72,589.92 202.32,591.45 C202.91,592.98 203.86,594.56 204.56,596.04 C205.26,597.52 205.99,598.28 206.54,600.32 C207.09,602.36 207.49,605.42 207.86,608.28 C208.23,611.14 208.45,614.40 208.78,617.46 C209.11,620.52 209.55,624.09 209.84,626.64 C210.13,629.19 210.50,630.72 210.50,632.76 C210.50,634.80 210.50,637.25 209.84,638.88 C209.18,640.51 207.97,641.69 206.54,642.55 C205.11,643.42 202.80,643.78 201.26,644.08 C199.72,644.39 198.62,644.39 197.30,644.39 C195.98,644.39 194.88,644.39 193.34,644.08 C191.80,643.78 189.49,643.42 188.06,642.55 C186.63,641.69 185.42,640.51 184.76,638.88 C184.10,637.25 184.10,634.80 184.10,632.76 C184.10,630.72 184.47,629.19 184.76,626.64 C185.05,624.09 185.49,620.52 185.82,617.46 C186.15,614.40 186.37,611.14 186.74,608.28 C187.11,605.42 187.51,602.36 188.06,600.32 C188.61,598.28 189.34,597.52 190.04,596.04 C190.74,594.56 191.69,592.98 192.28,591.45 C192.88,589.92 193.16,588.01 193.60,586.86 C194.04,585.71 194.31,585.04 194.92,584.53 C195.54,584.02 196.51,583.80 197.30,583.80 Z" fill="url(#mbody)"/>
<ellipse cx="199.5" cy="629.1" rx="1.9" ry="4.2" fill="#9a9a9a" fill-opacity="0.1"/><ellipse cx="202.7" cy="600.4" rx="1.6" ry="4.2" fill="#9a9a9a" fill-opacity="0.1"/><ellipse cx="195.2" cy="637.9" rx="3.1" ry="3.1" fill="#9a9a9a" fill-opacity="0.1"/><ellipse cx="191.8" cy="622.2" rx="2.7" ry="2.5" fill="#9a9a9a" fill-opacity="0.1"/><ellipse cx="202.7" cy="608.7" rx="2.7" ry="3.7" fill="#9a9a9a" fill-opacity="0.1"/><ellipse cx="195.9" cy="612.4" rx="2.2" ry="4.2" fill="#9a9a9a" fill-opacity="0.1"/><ellipse cx="200.6" cy="601.2" rx="1.9" ry="3.1" fill="#9a9a9a" fill-opacity="0.1"/>
<ellipse cx="196.6" cy="607.3" rx="1.5" ry="6" fill="#4a20a8"/>
<ellipse cx="185.4" cy="631.5" rx="3.6" ry="4.0" fill="url(#s4)"/>
<ellipse cx="206.6" cy="633.6" rx="3.6" ry="3.8" fill="url(#s2)"/>
<rect x="47.65" y="502.15" width="163.90" height="71.50" fill="none" stroke="#c81e74" stroke-width="1.1"/>
<line x1="47.3" y1="573.1" x2="211.9" y2="573.1" stroke="#c81e74" stroke-width="1.6"/>
<rect x="47.65" y="578.45" width="163.90" height="70.60" fill="none" stroke="#4e3060" stroke-width="1.1"/>
<text x="242.5" y="484.3" font-size="10.5" fill="#000" text-anchor="start" font-weight="bold" stroke="#000" stroke-width="0.35">H</text>
<line x1="302.5" y1="495.5" x2="302.5" y2="629.5" stroke="#333" stroke-width="1.3" />
<line x1="299.5" y1="496.25" x2="302.5" y2="496.25" stroke="#333" stroke-width="0.9" />
<text x="297.3" y="498.85" font-size="7.4" fill="#222" text-anchor="end" textLength="29.5" lengthAdjust="spacingAndGlyphs" stroke="#222" stroke-width="0.1">1.4&#215;10<tspan font-size="4.81" dy="-3.11">8</tspan></text>
<line x1="299.5" y1="515.25" x2="302.5" y2="515.25" stroke="#333" stroke-width="0.9" />
<text x="297.3" y="517.85" font-size="7.4" fill="#222" text-anchor="end" textLength="29.5" lengthAdjust="spacingAndGlyphs" stroke="#222" stroke-width="0.1">1.2&#215;10<tspan font-size="4.81" dy="-3.11">8</tspan></text>
<line x1="299.5" y1="534.25" x2="302.5" y2="534.25" stroke="#333" stroke-width="0.9" />
<text x="297.3" y="536.85" font-size="7.4" fill="#222" text-anchor="end" textLength="29.5" lengthAdjust="spacingAndGlyphs" stroke="#222" stroke-width="0.1">1.0&#215;10<tspan font-size="4.81" dy="-3.11">8</tspan></text>
<line x1="299.5" y1="553.25" x2="302.5" y2="553.25" stroke="#333" stroke-width="0.9" />
<text x="297.3" y="555.85" font-size="7.4" fill="#222" text-anchor="end" textLength="29.5" lengthAdjust="spacingAndGlyphs" stroke="#222" stroke-width="0.1">8.0&#215;10<tspan font-size="4.81" dy="-3.11">7</tspan></text>
<line x1="299.5" y1="572.25" x2="302.5" y2="572.25" stroke="#333" stroke-width="0.9" />
<text x="297.3" y="574.85" font-size="7.4" fill="#222" text-anchor="end" textLength="29.5" lengthAdjust="spacingAndGlyphs" stroke="#222" stroke-width="0.1">6.0&#215;10<tspan font-size="4.81" dy="-3.11">7</tspan></text>
<line x1="299.5" y1="591.25" x2="302.5" y2="591.25" stroke="#333" stroke-width="0.9" />
<text x="297.3" y="593.85" font-size="7.4" fill="#222" text-anchor="end" textLength="29.5" lengthAdjust="spacingAndGlyphs" stroke="#222" stroke-width="0.1">4.0&#215;10<tspan font-size="4.81" dy="-3.11">7</tspan></text>
<line x1="299.5" y1="610.25" x2="302.5" y2="610.25" stroke="#333" stroke-width="0.9" />
<text x="297.3" y="612.85" font-size="7.4" fill="#222" text-anchor="end" textLength="29.5" lengthAdjust="spacingAndGlyphs" stroke="#222" stroke-width="0.1">2.0&#215;10<tspan font-size="4.81" dy="-3.11">7</tspan></text>
<line x1="299.5" y1="629.25" x2="302.5" y2="629.25" stroke="#333" stroke-width="0.9" />
<text x="297.3" y="631.85" font-size="7.4" fill="#222" text-anchor="end" textLength="13.5" lengthAdjust="spacingAndGlyphs"  stroke="#222" stroke-width="0.1">0.0</text>
<line x1="302.5" y1="629.5" x2="479.2" y2="629.5" stroke="#333" stroke-width="1.3" />
<line x1="320.6" y1="629.5" x2="320.6" y2="632.2" stroke="#333" stroke-width="0.9" />
<text x="320.6" y="642.6" font-size="7.2" fill="#222" text-anchor="middle" textLength="18.368280000000002" lengthAdjust="spacingAndGlyphs"  stroke="#222" stroke-width="0.1">Wk 4</text>
<line x1="357.65000000000003" y1="629.5" x2="357.65000000000003" y2="632.2" stroke="#333" stroke-width="0.9" />
<text x="357.65000000000003" y="642.6" font-size="7.2" fill="#222" text-anchor="middle" textLength="18.368280000000002" lengthAdjust="spacingAndGlyphs"  stroke="#222" stroke-width="0.1">Wk 5</text>
<line x1="394.70000000000005" y1="629.5" x2="394.70000000000005" y2="632.2" stroke="#333" stroke-width="0.9" />
<text x="394.70000000000005" y="642.6" font-size="7.2" fill="#222" text-anchor="middle" textLength="18.368280000000002" lengthAdjust="spacingAndGlyphs"  stroke="#222" stroke-width="0.1">Wk 6</text>
<line x1="431.75" y1="629.5" x2="431.75" y2="632.2" stroke="#333" stroke-width="0.9" />
<text x="431.75" y="642.6" font-size="7.2" fill="#222" text-anchor="middle" textLength="18.368280000000002" lengthAdjust="spacingAndGlyphs"  stroke="#222" stroke-width="0.1">Wk 7</text>
<line x1="468.8" y1="629.5" x2="468.8" y2="632.2" stroke="#333" stroke-width="0.9" />
<text x="468.8" y="642.6" font-size="7.2" fill="#222" text-anchor="middle" textLength="18.368280000000002" lengthAdjust="spacingAndGlyphs"  stroke="#222" stroke-width="0.1">Wk 8</text>
<text x="262.6" y="561.9" font-size="7.5" fill="#1a1a1a" text-anchor="middle" font-weight="bold" textLength="78.7" lengthAdjust="spacingAndGlyphs" transform="rotate(-90 262.6 561.9)" >Total flux (photons/second)</text>
<text x="310" y="514.7" font-size="7.6" fill="#cc2f82" text-anchor="start" textLength="51.8" lengthAdjust="spacingAndGlyphs"  stroke="#cc2f82" stroke-width="0.1">Vehicle Control</text>
<text x="310" y="525.2" font-size="7.6" fill="#4f2c60" text-anchor="start" textLength="46.8" lengthAdjust="spacingAndGlyphs"  stroke="#4f2c60" stroke-width="0.1">Daratumumab</text>
<path d="M320.60,617.00 C326.78,615.63 345.30,613.17 357.65,608.80 C370.00,604.43 382.35,597.85 394.70,590.80 C407.05,583.75 419.40,576.30 431.75,566.50 C444.10,556.70 462.62,537.75 468.80,532.00 " fill="none" stroke="#d6308a" stroke-width="1.5"/>
<path d="M320.60,622.50 C326.78,620.97 345.30,616.57 357.65,613.30 C370.00,610.03 382.35,607.12 394.70,602.90 C407.05,598.68 419.40,593.02 431.75,588.00 C444.10,582.98 462.62,575.33 468.80,572.80 " fill="none" stroke="#46244f" stroke-width="1.5"/>
<circle cx="317" cy="623" r="2.6" fill="none" stroke="#46244f" stroke-width="1.15"/>
<circle cx="321" cy="621" r="2.6" fill="none" stroke="#46244f" stroke-width="1.15"/>
<circle cx="323" cy="625" r="2.6" fill="none" stroke="#46244f" stroke-width="1.15"/>
<circle cx="319" cy="624" r="2.6" fill="none" stroke="#46244f" stroke-width="1.15"/>
<circle cx="356" cy="619" r="2.6" fill="none" stroke="#46244f" stroke-width="1.15"/>
<circle cx="358" cy="613" r="2.6" fill="none" stroke="#46244f" stroke-width="1.15"/>
<circle cx="357" cy="617" r="2.6" fill="none" stroke="#46244f" stroke-width="1.15"/>
<circle cx="359.5" cy="615.5" r="2.6" fill="none" stroke="#46244f" stroke-width="1.15"/>
<circle cx="392.6" cy="589" r="2.6" fill="none" stroke="#46244f" stroke-width="1.15"/>
<circle cx="397" cy="591" r="2.6" fill="none" stroke="#46244f" stroke-width="1.15"/>
<circle cx="396.3" cy="602.9" r="2.6" fill="none" stroke="#46244f" stroke-width="1.15"/>
<circle cx="393.4" cy="615" r="2.6" fill="none" stroke="#46244f" stroke-width="1.15"/>
<circle cx="395.6" cy="613.5" r="2.6" fill="none" stroke="#46244f" stroke-width="1.15"/>
<circle cx="429.3" cy="581" r="2.6" fill="none" stroke="#46244f" stroke-width="1.15"/>
<circle cx="434" cy="577" r="2.6" fill="none" stroke="#46244f" stroke-width="1.15"/>
<circle cx="432.8" cy="583" r="2.6" fill="none" stroke="#46244f" stroke-width="1.15"/>
<circle cx="431.7" cy="589" r="2.6" fill="none" stroke="#46244f" stroke-width="1.15"/>
<circle cx="431.7" cy="604.6" r="2.6" fill="none" stroke="#46244f" stroke-width="1.15"/>
<circle cx="468.8" cy="553.4" r="2.6" fill="none" stroke="#46244f" stroke-width="1.15"/>
<circle cx="465.3" cy="572.8" r="2.6" fill="none" stroke="#46244f" stroke-width="1.15"/>
<circle cx="470.8" cy="570.7" r="2.6" fill="none" stroke="#46244f" stroke-width="1.15"/>
<circle cx="468.8" cy="578.6" r="2.6" fill="none" stroke="#46244f" stroke-width="1.15"/>
<circle cx="468" cy="586.3" r="2.6" fill="none" stroke="#46244f" stroke-width="1.15"/>
<circle cx="318.5" cy="615" r="2.6" fill="none" stroke="#d6308a" stroke-width="1.15"/>
<circle cx="321" cy="617" r="2.6" fill="none" stroke="#d6308a" stroke-width="1.15"/>
<circle cx="323" cy="619" r="2.6" fill="none" stroke="#d6308a" stroke-width="1.15"/>
<circle cx="357.5" cy="592.5" r="2.6" fill="none" stroke="#d6308a" stroke-width="1.15"/>
<circle cx="355.5" cy="610" r="2.6" fill="none" stroke="#d6308a" stroke-width="1.15"/>
<circle cx="359" cy="612" r="2.6" fill="none" stroke="#d6308a" stroke-width="1.15"/>
<circle cx="393.7" cy="583.2" r="2.6" fill="none" stroke="#d6308a" stroke-width="1.15"/>
<circle cx="394.7" cy="578.6" r="2.6" fill="none" stroke="#d6308a" stroke-width="1.15"/>
<circle cx="392.3" cy="587.3" r="2.6" fill="none" stroke="#d6308a" stroke-width="1.15"/>
<circle cx="394.7" cy="606.3" r="2.6" fill="none" stroke="#d6308a" stroke-width="1.15"/>
<circle cx="431.7" cy="534.7" r="2.6" fill="none" stroke="#d6308a" stroke-width="1.15"/>
<circle cx="431.7" cy="566.5" r="2.6" fill="none" stroke="#d6308a" stroke-width="1.15"/>
<circle cx="429.3" cy="571" r="2.6" fill="none" stroke="#d6308a" stroke-width="1.15"/>
<circle cx="468.8" cy="506.7" r="2.6" fill="none" stroke="#d6308a" stroke-width="1.15"/>
<circle cx="470.8" cy="527.4" r="2.6" fill="none" stroke="#d6308a" stroke-width="1.15"/>
<circle cx="466.3" cy="532" r="2.6" fill="none" stroke="#d6308a" stroke-width="1.15"/>
<circle cx="468" cy="559.6" r="2.6" fill="none" stroke="#d6308a" stroke-width="1.15"/>
<path d="M480.2,530.2 H487.1 V577 H480.2" fill="none" stroke="#444" stroke-width="0.9"/>
<text x="494.5" y="552.4" font-size="7.2" fill="#222" text-anchor="middle" textLength="34" lengthAdjust="spacingAndGlyphs" transform="rotate(-90 494.5 552.4)" stroke="#222" stroke-width="0.1"><tspan font-style="italic">P</tspan> &lt; .0001</text>
<rect x="0.5" y="0.5" width="519" height="656" fill="none" stroke="#555" stroke-width="1"/>
</svg>
</body></html>
